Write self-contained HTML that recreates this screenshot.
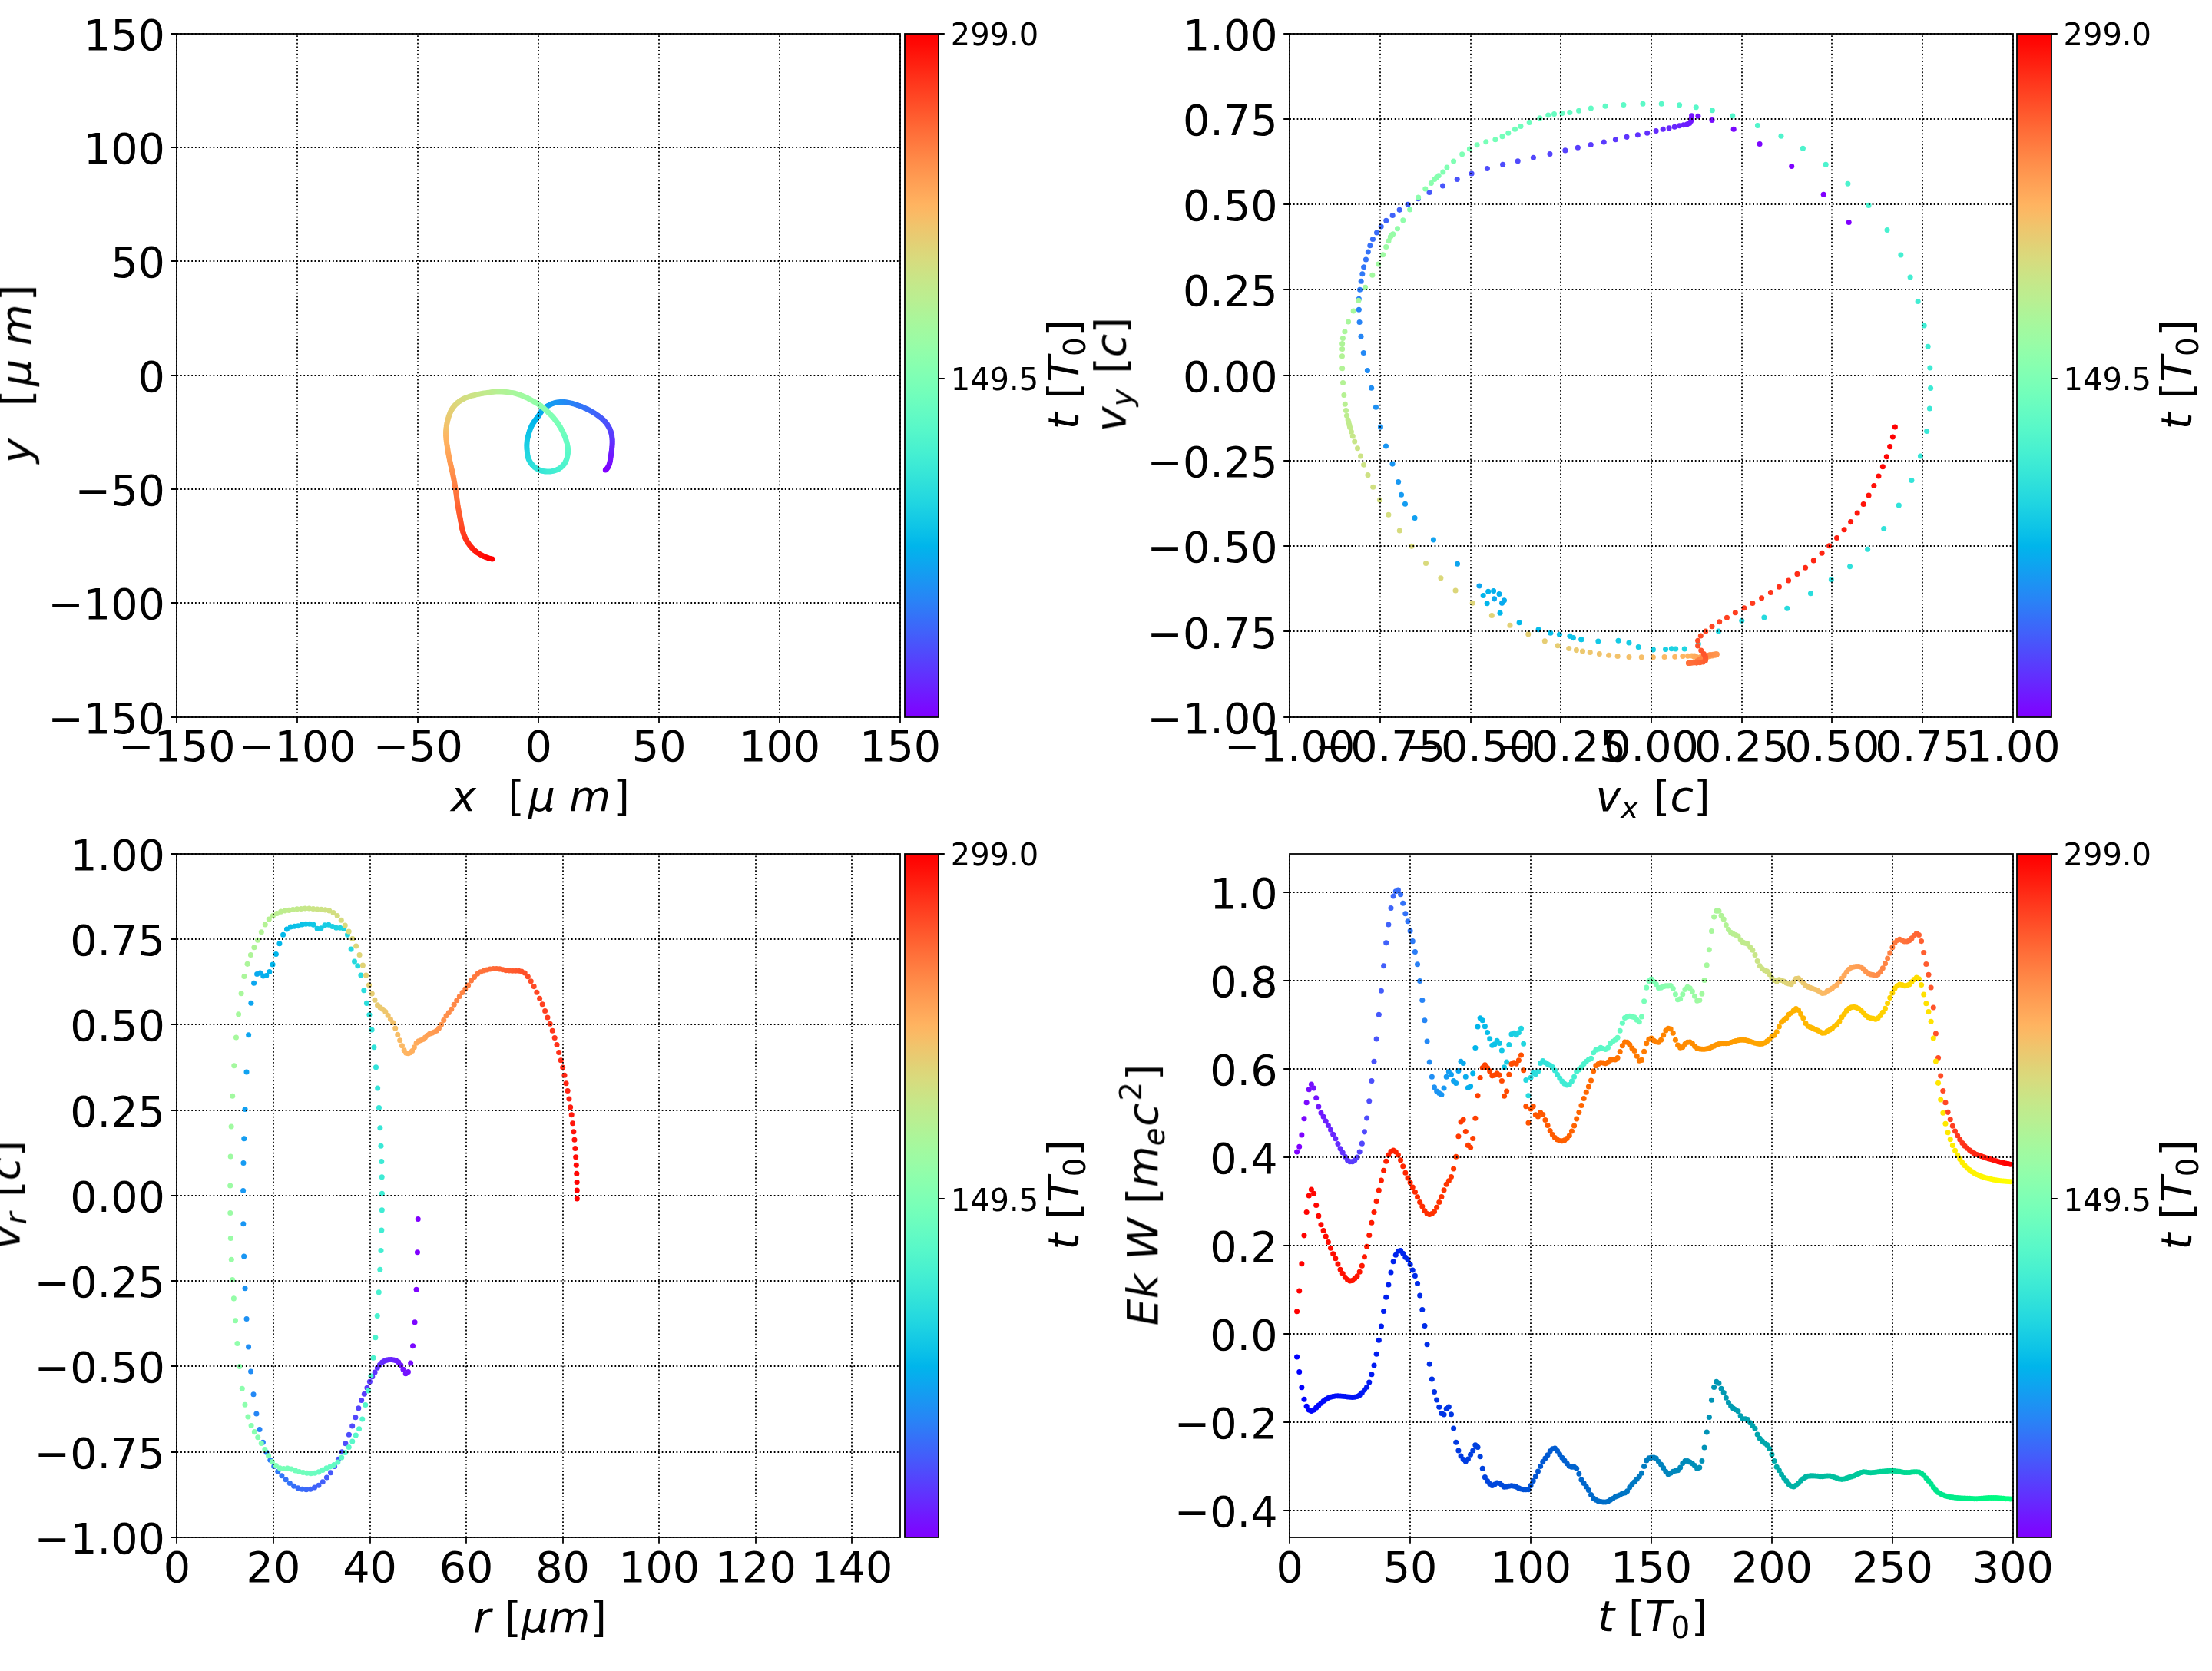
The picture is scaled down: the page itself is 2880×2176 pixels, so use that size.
<!DOCTYPE html>
<html lang="en"><head><meta charset="utf-8"><title>particle tracking figure</title>
<style>
html,body{margin:0;padding:0;background:#fff}
svg{display:block}
circle{r:3.514px}
.g{fill:none;stroke:#000;stroke-width:1.778;stroke-dasharray:1.778 2.933}
.k{fill:none;stroke:#000;stroke-width:1.778}
.s{fill:none;stroke:#000;stroke-width:1.778;stroke-linejoin:miter}
text{font-family:"DejaVu Sans","Liberation Sans",sans-serif;fill:#000}
.a{font-size:25px}.b{font-size:18px}.c{font-size:17.5px}.i{font-style:oblique}
</style></head>
<body>
<svg width="2880" height="2176" viewBox="0 0 2880 2176">
<defs>
<linearGradient id="rb" x1="0" y1="1" x2="0" y2="0"><stop offset="0" stop-color="#8000ff"/><stop offset="0.0156" stop-color="#780dff"/><stop offset="0.0312" stop-color="#7019ff"/><stop offset="0.0469" stop-color="#6826fe"/><stop offset="0.0625" stop-color="#6032fe"/><stop offset="0.0781" stop-color="#583efd"/><stop offset="0.0938" stop-color="#504afc"/><stop offset="0.1094" stop-color="#4856fb"/><stop offset="0.125" stop-color="#4062fa"/><stop offset="0.1406" stop-color="#386df9"/><stop offset="0.1562" stop-color="#3079f7"/><stop offset="0.1719" stop-color="#2884f6"/><stop offset="0.1875" stop-color="#208ef4"/><stop offset="0.2031" stop-color="#1898f2"/><stop offset="0.2188" stop-color="#10a2f0"/><stop offset="0.2344" stop-color="#08acee"/><stop offset="0.25" stop-color="#00b5eb"/><stop offset="0.2656" stop-color="#08bee9"/><stop offset="0.2812" stop-color="#10c6e6"/><stop offset="0.2969" stop-color="#18cde4"/><stop offset="0.3125" stop-color="#20d5e1"/><stop offset="0.3281" stop-color="#28dbde"/><stop offset="0.3438" stop-color="#30e1da"/><stop offset="0.3594" stop-color="#38e7d7"/><stop offset="0.375" stop-color="#40ecd4"/><stop offset="0.3906" stop-color="#48f1d0"/><stop offset="0.4062" stop-color="#50f4cc"/><stop offset="0.4219" stop-color="#58f8c9"/><stop offset="0.4375" stop-color="#60fac5"/><stop offset="0.4531" stop-color="#68fcc1"/><stop offset="0.4688" stop-color="#70febc"/><stop offset="0.4844" stop-color="#78ffb8"/><stop offset="0.5" stop-color="#80ffb4"/><stop offset="0.5156" stop-color="#88ffaf"/><stop offset="0.5312" stop-color="#90feab"/><stop offset="0.5469" stop-color="#99fca6"/><stop offset="0.5625" stop-color="#a0faa1"/><stop offset="0.5781" stop-color="#a8f79c"/><stop offset="0.5938" stop-color="#b0f397"/><stop offset="0.6094" stop-color="#b9ef92"/><stop offset="0.625" stop-color="#c0eb8d"/><stop offset="0.6406" stop-color="#c8e688"/><stop offset="0.6562" stop-color="#d0e082"/><stop offset="0.6719" stop-color="#d9da7d"/><stop offset="0.6875" stop-color="#e0d377"/><stop offset="0.7031" stop-color="#e8cb72"/><stop offset="0.7188" stop-color="#f0c46c"/><stop offset="0.7344" stop-color="#f9bb66"/><stop offset="0.75" stop-color="#ffb360"/><stop offset="0.7656" stop-color="#ffa95b"/><stop offset="0.7812" stop-color="#ffa055"/><stop offset="0.7969" stop-color="#ff964f"/><stop offset="0.8125" stop-color="#ff8c49"/><stop offset="0.8281" stop-color="#ff8143"/><stop offset="0.8438" stop-color="#ff763d"/><stop offset="0.8594" stop-color="#ff6b37"/><stop offset="0.875" stop-color="#ff5f30"/><stop offset="0.8906" stop-color="#ff532a"/><stop offset="0.9062" stop-color="#ff4724"/><stop offset="0.9219" stop-color="#ff3b1e"/><stop offset="0.9375" stop-color="#ff2f18"/><stop offset="0.9531" stop-color="#ff2211"/><stop offset="0.9688" stop-color="#ff160b"/><stop offset="0.9844" stop-color="#ff0905"/><stop offset="1" stop-color="#ff0000"/></linearGradient>
<clipPath id="c0"><rect x="230.4" y="43.52" width="941.697" height="890.182"/></clipPath>
<clipPath id="c1"><rect x="1679.165" y="43.52" width="941.697" height="890.182"/></clipPath>
<clipPath id="c2"><rect x="230.4" y="1111.738" width="941.697" height="890.182"/></clipPath>
<clipPath id="c3"><rect x="1679.165" y="1111.738" width="941.697" height="890.182"/></clipPath>
</defs>
<rect width="2880" height="2176" fill="#fff"/>
<g clip-path="url(#c0)">
<circle cx="788.33" cy="612" r="3.51" fill="#8000ff"/>
<circle cx="789.94" cy="610.55" r="3.51" fill="#8000ff"/>
<circle cx="791.29" cy="608.86" r="3.51" fill="#7e03ff"/>
<circle cx="792.37" cy="606.95" r="3.51" fill="#7c06ff"/>
<circle cx="793.2" cy="604.87" r="3.51" fill="#7a09ff"/>
<circle cx="793.82" cy="602.7" r="3.51" fill="#780dff"/>
<circle cx="794.29" cy="600.47" r="3.51" fill="#7610ff"/>
<circle cx="794.67" cy="598.22" r="3.51" fill="#7413ff"/>
<circle cx="795.02" cy="595.98" r="3.51" fill="#7413ff"/>
<circle cx="795.36" cy="593.76" r="3.51" fill="#7216ff"/>
<circle cx="795.7" cy="591.56" r="3.51" fill="#7019ff"/>
<circle cx="796.02" cy="589.38" r="3.51" fill="#6e1cff"/>
<circle cx="796.32" cy="587.21" r="3.51" fill="#6c1fff"/>
<circle cx="796.58" cy="585.04" r="3.51" fill="#6a22fe"/>
<circle cx="796.8" cy="582.88" r="3.51" fill="#6826fe"/>
<circle cx="796.98" cy="580.73" r="3.51" fill="#6826fe"/>
<circle cx="797.1" cy="578.59" r="3.51" fill="#6629fe"/>
<circle cx="797.18" cy="576.46" r="3.51" fill="#642cfe"/>
<circle cx="797.18" cy="574.35" r="3.51" fill="#622ffe"/>
<circle cx="797.1" cy="572.25" r="3.51" fill="#6032fe"/>
<circle cx="796.94" cy="570.17" r="3.51" fill="#5e35fe"/>
<circle cx="796.67" cy="568.12" r="3.51" fill="#5c38fd"/>
<circle cx="796.31" cy="566.08" r="3.51" fill="#5a3bfd"/>
<circle cx="795.84" cy="564.07" r="3.51" fill="#5a3bfd"/>
<circle cx="795.26" cy="562.08" r="3.51" fill="#583efd"/>
<circle cx="794.57" cy="560.12" r="3.51" fill="#5641fd"/>
<circle cx="793.76" cy="558.18" r="3.51" fill="#5444fd"/>
<circle cx="792.8" cy="556.28" r="3.51" fill="#5247fc"/>
<circle cx="791.71" cy="554.4" r="3.51" fill="#504afc"/>
<circle cx="790.49" cy="552.56" r="3.51" fill="#4e4dfc"/>
<circle cx="789.13" cy="550.75" r="3.51" fill="#4e4dfc"/>
<circle cx="787.64" cy="548.98" r="3.51" fill="#4c50fc"/>
<circle cx="786.02" cy="547.25" r="3.51" fill="#4a53fb"/>
<circle cx="784.27" cy="545.58" r="3.51" fill="#4856fb"/>
<circle cx="782.4" cy="543.96" r="3.51" fill="#4659fb"/>
<circle cx="780.43" cy="542.4" r="3.51" fill="#445cfb"/>
<circle cx="778.36" cy="540.89" r="3.51" fill="#425ffa"/>
<circle cx="776.21" cy="539.44" r="3.51" fill="#4062fa"/>
<circle cx="773.99" cy="538.02" r="3.51" fill="#4062fa"/>
<circle cx="771.72" cy="536.66" r="3.51" fill="#3e65fa"/>
<circle cx="769.4" cy="535.34" r="3.51" fill="#3c68f9"/>
<circle cx="767.03" cy="534.08" r="3.51" fill="#396bf9"/>
<circle cx="764.63" cy="532.87" r="3.51" fill="#386df9"/>
<circle cx="762.2" cy="531.72" r="3.51" fill="#3670f8"/>
<circle cx="759.75" cy="530.62" r="3.51" fill="#3473f8"/>
<circle cx="757.29" cy="529.58" r="3.51" fill="#3473f8"/>
<circle cx="754.8" cy="528.61" r="3.51" fill="#3176f8"/>
<circle cx="752.3" cy="527.7" r="3.51" fill="#3079f7"/>
<circle cx="749.78" cy="526.85" r="3.51" fill="#2e7bf7"/>
<circle cx="747.26" cy="526.07" r="3.51" fill="#2c7ef7"/>
<circle cx="744.73" cy="525.37" r="3.51" fill="#2981f6"/>
<circle cx="742.19" cy="524.75" r="3.51" fill="#2884f6"/>
<circle cx="739.65" cy="524.24" r="3.51" fill="#2884f6"/>
<circle cx="737.13" cy="523.84" r="3.51" fill="#2686f5"/>
<circle cx="734.62" cy="523.58" r="3.51" fill="#2489f5"/>
<circle cx="732.14" cy="523.46" r="3.51" fill="#218cf4"/>
<circle cx="729.69" cy="523.49" r="3.51" fill="#208ef4"/>
<circle cx="727.28" cy="523.69" r="3.51" fill="#1e91f3"/>
<circle cx="724.91" cy="524.05" r="3.51" fill="#1c93f3"/>
<circle cx="722.58" cy="524.58" r="3.51" fill="#1996f3"/>
<circle cx="720.31" cy="525.28" r="3.51" fill="#1996f3"/>
<circle cx="718.09" cy="526.12" r="3.51" fill="#1898f2"/>
<circle cx="715.9" cy="527.11" r="3.51" fill="#169bf2"/>
<circle cx="713.75" cy="528.18" r="3.51" fill="#149df1"/>
<circle cx="711.65" cy="529.36" r="3.51" fill="#11a0f1"/>
<circle cx="709.68" cy="530.7" r="3.51" fill="#10a2f0"/>
<circle cx="707.9" cy="532.23" r="3.51" fill="#0ea5ef"/>
<circle cx="706.31" cy="533.96" r="3.51" fill="#0ea5ef"/>
<circle cx="704.88" cy="535.85" r="3.51" fill="#0ca7ef"/>
<circle cx="703.55" cy="537.81" r="3.51" fill="#09a9ee"/>
<circle cx="702.26" cy="539.77" r="3.51" fill="#08acee"/>
<circle cx="700.96" cy="541.7" r="3.51" fill="#06aeed"/>
<circle cx="699.62" cy="543.59" r="3.51" fill="#04b0ed"/>
<circle cx="698.23" cy="545.46" r="3.51" fill="#01b3ec"/>
<circle cx="696.79" cy="547.36" r="3.51" fill="#00b5eb"/>
<circle cx="695.35" cy="549.3" r="3.51" fill="#00b5eb"/>
<circle cx="693.98" cy="551.33" r="3.51" fill="#02b7eb"/>
<circle cx="692.75" cy="553.43" r="3.51" fill="#04b9ea"/>
<circle cx="691.69" cy="555.61" r="3.51" fill="#07bbea"/>
<circle cx="690.76" cy="557.83" r="3.51" fill="#08bee9"/>
<circle cx="689.92" cy="560.08" r="3.51" fill="#0ac0e8"/>
<circle cx="689.17" cy="562.34" r="3.51" fill="#0dc2e8"/>
<circle cx="688.48" cy="564.61" r="3.51" fill="#0dc2e8"/>
<circle cx="687.84" cy="566.9" r="3.51" fill="#0fc4e7"/>
<circle cx="687.23" cy="569.19" r="3.51" fill="#10c6e6"/>
<circle cx="686.69" cy="571.49" r="3.51" fill="#12c8e6"/>
<circle cx="686.32" cy="573.8" r="3.51" fill="#14cae5"/>
<circle cx="686.08" cy="576.11" r="3.51" fill="#17cbe4"/>
<circle cx="685.93" cy="578.45" r="3.51" fill="#18cde4"/>
<circle cx="685.88" cy="580.82" r="3.51" fill="#18cde4"/>
<circle cx="685.95" cy="583.21" r="3.51" fill="#1acfe3"/>
<circle cx="686.1" cy="585.58" r="3.51" fill="#1dd1e2"/>
<circle cx="686.29" cy="587.96" r="3.51" fill="#1fd3e1"/>
<circle cx="686.54" cy="590.33" r="3.51" fill="#20d5e1"/>
<circle cx="686.89" cy="592.69" r="3.51" fill="#22d6e0"/>
<circle cx="687.39" cy="594.96" r="3.51" fill="#24d8df"/>
<circle cx="688.07" cy="597.14" r="3.51" fill="#27dade"/>
<circle cx="688.95" cy="599.26" r="3.51" fill="#27dade"/>
<circle cx="690.03" cy="601.32" r="3.51" fill="#28dbde"/>
<circle cx="691.31" cy="603.28" r="3.51" fill="#2adddd"/>
<circle cx="692.78" cy="605.12" r="3.51" fill="#2ddedc"/>
<circle cx="694.43" cy="606.83" r="3.51" fill="#2fe0db"/>
<circle cx="696.23" cy="608.42" r="3.51" fill="#30e1da"/>
<circle cx="698.18" cy="609.84" r="3.51" fill="#32e3da"/>
<circle cx="700.26" cy="611.07" r="3.51" fill="#32e3da"/>
<circle cx="702.46" cy="612.09" r="3.51" fill="#34e4d9"/>
<circle cx="704.76" cy="612.9" r="3.51" fill="#37e6d8"/>
<circle cx="707.12" cy="613.5" r="3.51" fill="#38e7d7"/>
<circle cx="709.53" cy="613.88" r="3.51" fill="#3ae8d6"/>
<circle cx="711.95" cy="614.08" r="3.51" fill="#3dead5"/>
<circle cx="714.37" cy="614.11" r="3.51" fill="#3febd5"/>
<circle cx="716.78" cy="613.95" r="3.51" fill="#40ecd4"/>
<circle cx="719.16" cy="613.61" r="3.51" fill="#40ecd4"/>
<circle cx="721.5" cy="613.07" r="3.51" fill="#42edd3"/>
<circle cx="723.79" cy="612.33" r="3.51" fill="#44eed2"/>
<circle cx="725.99" cy="611.38" r="3.51" fill="#46efd1"/>
<circle cx="728.1" cy="610.23" r="3.51" fill="#48f1d0"/>
<circle cx="730.06" cy="608.86" r="3.51" fill="#4af2cf"/>
<circle cx="731.86" cy="607.29" r="3.51" fill="#4df3ce"/>
<circle cx="733.47" cy="605.55" r="3.51" fill="#4df3ce"/>
<circle cx="734.89" cy="603.65" r="3.51" fill="#4ef3cd"/>
<circle cx="736.11" cy="601.63" r="3.51" fill="#50f4cc"/>
<circle cx="737.13" cy="599.51" r="3.51" fill="#52f5cb"/>
<circle cx="737.95" cy="597.3" r="3.51" fill="#54f6cb"/>
<circle cx="738.56" cy="595.02" r="3.51" fill="#56f7ca"/>
<circle cx="739.02" cy="592.71" r="3.51" fill="#58f8c9"/>
<circle cx="739.34" cy="590.37" r="3.51" fill="#58f8c9"/>
<circle cx="739.5" cy="588.02" r="3.51" fill="#5af8c8"/>
<circle cx="739.51" cy="585.67" r="3.51" fill="#5df9c7"/>
<circle cx="739.35" cy="583.31" r="3.51" fill="#5efac6"/>
<circle cx="739.03" cy="580.97" r="3.51" fill="#60fac5"/>
<circle cx="738.57" cy="578.65" r="3.51" fill="#62fbc4"/>
<circle cx="737.99" cy="576.34" r="3.51" fill="#64fbc3"/>
<circle cx="737.33" cy="574.05" r="3.51" fill="#66fcc2"/>
<circle cx="736.58" cy="571.77" r="3.51" fill="#66fcc2"/>
<circle cx="735.78" cy="569.5" r="3.51" fill="#68fcc1"/>
<circle cx="734.91" cy="567.24" r="3.51" fill="#6afdc0"/>
<circle cx="733.97" cy="565" r="3.51" fill="#6dfdbf"/>
<circle cx="732.96" cy="562.78" r="3.51" fill="#6efebe"/>
<circle cx="731.86" cy="560.61" r="3.51" fill="#70febc"/>
<circle cx="730.71" cy="558.46" r="3.51" fill="#72febb"/>
<circle cx="729.49" cy="556.34" r="3.51" fill="#72febb"/>
<circle cx="728.23" cy="554.25" r="3.51" fill="#74feba"/>
<circle cx="726.9" cy="552.19" r="3.51" fill="#76ffb9"/>
<circle cx="725.51" cy="550.15" r="3.51" fill="#78ffb8"/>
<circle cx="724.03" cy="548.14" r="3.51" fill="#7affb7"/>
<circle cx="722.49" cy="546.16" r="3.51" fill="#7dffb6"/>
<circle cx="720.88" cy="544.22" r="3.51" fill="#7effb5"/>
<circle cx="719.2" cy="542.33" r="3.51" fill="#80ffb4"/>
<circle cx="717.45" cy="540.5" r="3.51" fill="#80ffb4"/>
<circle cx="715.66" cy="538.72" r="3.51" fill="#82ffb3"/>
<circle cx="713.84" cy="536.97" r="3.51" fill="#84ffb2"/>
<circle cx="711.98" cy="535.24" r="3.51" fill="#86ffb0"/>
<circle cx="710.11" cy="533.54" r="3.51" fill="#88ffaf"/>
<circle cx="708.21" cy="531.85" r="3.51" fill="#8bfeae"/>
<circle cx="706.28" cy="530.21" r="3.51" fill="#8cfead"/>
<circle cx="704.29" cy="528.63" r="3.51" fill="#8cfead"/>
<circle cx="702.23" cy="527.14" r="3.51" fill="#8efeac"/>
<circle cx="700.1" cy="525.75" r="3.51" fill="#90feab"/>
<circle cx="697.92" cy="524.44" r="3.51" fill="#92fda9"/>
<circle cx="695.7" cy="523.19" r="3.51" fill="#94fda8"/>
<circle cx="693.45" cy="521.97" r="3.51" fill="#96fca7"/>
<circle cx="691.2" cy="520.75" r="3.51" fill="#99fca6"/>
<circle cx="688.94" cy="519.54" r="3.51" fill="#99fca6"/>
<circle cx="686.67" cy="518.36" r="3.51" fill="#9bfba5"/>
<circle cx="684.37" cy="517.22" r="3.51" fill="#9cfba4"/>
<circle cx="682.06" cy="516.14" r="3.51" fill="#9efaa2"/>
<circle cx="679.71" cy="515.14" r="3.51" fill="#a0faa1"/>
<circle cx="677.31" cy="514.22" r="3.51" fill="#a2f9a0"/>
<circle cx="674.86" cy="513.4" r="3.51" fill="#a4f89f"/>
<circle cx="672.35" cy="512.7" r="3.51" fill="#a6f89d"/>
<circle cx="669.79" cy="512.09" r="3.51" fill="#a6f89d"/>
<circle cx="667.18" cy="511.58" r="3.51" fill="#a8f79c"/>
<circle cx="664.53" cy="511.16" r="3.51" fill="#abf69b"/>
<circle cx="661.86" cy="510.81" r="3.51" fill="#acf59a"/>
<circle cx="659.18" cy="510.52" r="3.51" fill="#aef498"/>
<circle cx="656.5" cy="510.26" r="3.51" fill="#b0f397"/>
<circle cx="653.82" cy="510.07" r="3.51" fill="#b2f396"/>
<circle cx="651.14" cy="509.96" r="3.51" fill="#b2f396"/>
<circle cx="648.46" cy="509.96" r="3.51" fill="#b4f295"/>
<circle cx="645.78" cy="510.08" r="3.51" fill="#b6f193"/>
<circle cx="643.12" cy="510.29" r="3.51" fill="#b9ef92"/>
<circle cx="640.47" cy="510.57" r="3.51" fill="#bbee91"/>
<circle cx="637.82" cy="510.9" r="3.51" fill="#bced8f"/>
<circle cx="635.18" cy="511.27" r="3.51" fill="#beec8e"/>
<circle cx="632.55" cy="511.66" r="3.51" fill="#c0eb8d"/>
<circle cx="629.93" cy="512.08" r="3.51" fill="#c0eb8d"/>
<circle cx="627.31" cy="512.53" r="3.51" fill="#c2ea8c"/>
<circle cx="624.7" cy="513" r="3.51" fill="#c4e88a"/>
<circle cx="622.1" cy="513.51" r="3.51" fill="#c6e789"/>
<circle cx="619.52" cy="514.06" r="3.51" fill="#c8e688"/>
<circle cx="616.96" cy="514.67" r="3.51" fill="#cbe486"/>
<circle cx="614.42" cy="515.33" r="3.51" fill="#cce385"/>
<circle cx="611.91" cy="516.07" r="3.51" fill="#cce385"/>
<circle cx="609.43" cy="516.9" r="3.51" fill="#cee184"/>
<circle cx="607" cy="517.82" r="3.51" fill="#d0e082"/>
<circle cx="604.61" cy="518.84" r="3.51" fill="#d2de81"/>
<circle cx="602.29" cy="519.99" r="3.51" fill="#d4dd80"/>
<circle cx="600.06" cy="521.27" r="3.51" fill="#d6db7e"/>
<circle cx="597.92" cy="522.69" r="3.51" fill="#d9da7d"/>
<circle cx="595.91" cy="524.25" r="3.51" fill="#d9da7d"/>
<circle cx="594.01" cy="525.94" r="3.51" fill="#dbd87b"/>
<circle cx="592.25" cy="527.76" r="3.51" fill="#dcd67a"/>
<circle cx="590.63" cy="529.68" r="3.51" fill="#ded579"/>
<circle cx="589.16" cy="531.71" r="3.51" fill="#e0d377"/>
<circle cx="587.85" cy="533.84" r="3.51" fill="#e2d176"/>
<circle cx="586.7" cy="536.05" r="3.51" fill="#e4cf74"/>
<circle cx="585.71" cy="538.33" r="3.51" fill="#e6cd73"/>
<circle cx="584.84" cy="540.66" r="3.51" fill="#e6cd73"/>
<circle cx="584.08" cy="543.02" r="3.51" fill="#e8cb72"/>
<circle cx="583.39" cy="545.4" r="3.51" fill="#ebca70"/>
<circle cx="582.77" cy="547.79" r="3.51" fill="#ecc86f"/>
<circle cx="582.2" cy="550.19" r="3.51" fill="#eec66d"/>
<circle cx="581.71" cy="552.6" r="3.51" fill="#f0c46c"/>
<circle cx="581.3" cy="555.03" r="3.51" fill="#f2c26b"/>
<circle cx="580.97" cy="557.46" r="3.51" fill="#f2c26b"/>
<circle cx="580.73" cy="559.9" r="3.51" fill="#f4c069"/>
<circle cx="580.59" cy="562.35" r="3.51" fill="#f6be68"/>
<circle cx="580.56" cy="564.8" r="3.51" fill="#f9bb66"/>
<circle cx="580.62" cy="567.25" r="3.51" fill="#fbb965"/>
<circle cx="580.78" cy="569.69" r="3.51" fill="#fcb763"/>
<circle cx="581.02" cy="572.13" r="3.51" fill="#feb562"/>
<circle cx="581.31" cy="574.57" r="3.51" fill="#ffb360"/>
<circle cx="581.65" cy="577.01" r="3.51" fill="#ffb360"/>
<circle cx="582.01" cy="579.44" r="3.51" fill="#ffb05f"/>
<circle cx="582.38" cy="581.88" r="3.51" fill="#ffae5e"/>
<circle cx="582.76" cy="584.32" r="3.51" fill="#ffac5c"/>
<circle cx="583.14" cy="586.77" r="3.51" fill="#ffa95b"/>
<circle cx="583.55" cy="589.22" r="3.51" fill="#ffa759"/>
<circle cx="583.99" cy="591.66" r="3.51" fill="#ffa558"/>
<circle cx="584.46" cy="594.11" r="3.51" fill="#ffa558"/>
<circle cx="584.94" cy="596.55" r="3.51" fill="#ffa256"/>
<circle cx="585.43" cy="598.99" r="3.51" fill="#ffa055"/>
<circle cx="585.95" cy="601.43" r="3.51" fill="#ff9d53"/>
<circle cx="586.49" cy="603.86" r="3.51" fill="#ff9b52"/>
<circle cx="587.05" cy="606.29" r="3.51" fill="#ff9850"/>
<circle cx="587.61" cy="608.71" r="3.51" fill="#ff964f"/>
<circle cx="588.18" cy="611.13" r="3.51" fill="#ff964f"/>
<circle cx="588.72" cy="613.56" r="3.51" fill="#ff934d"/>
<circle cx="589.25" cy="615.98" r="3.51" fill="#ff914c"/>
<circle cx="589.76" cy="618.41" r="3.51" fill="#ff8e4a"/>
<circle cx="590.26" cy="620.84" r="3.51" fill="#ff8c49"/>
<circle cx="590.75" cy="623.27" r="3.51" fill="#ff8947"/>
<circle cx="591.21" cy="625.72" r="3.51" fill="#ff8646"/>
<circle cx="591.66" cy="628.17" r="3.51" fill="#ff8444"/>
<circle cx="592.09" cy="630.63" r="3.51" fill="#ff8444"/>
<circle cx="592.51" cy="633.09" r="3.51" fill="#ff8143"/>
<circle cx="592.92" cy="635.57" r="3.51" fill="#ff7e41"/>
<circle cx="593.3" cy="638.06" r="3.51" fill="#ff7b40"/>
<circle cx="593.66" cy="640.55" r="3.51" fill="#ff793e"/>
<circle cx="594" cy="643.05" r="3.51" fill="#ff763d"/>
<circle cx="594.32" cy="645.55" r="3.51" fill="#ff733b"/>
<circle cx="594.65" cy="648.05" r="3.51" fill="#ff733b"/>
<circle cx="594.97" cy="650.55" r="3.51" fill="#ff703a"/>
<circle cx="595.32" cy="653.04" r="3.51" fill="#ff6d38"/>
<circle cx="595.67" cy="655.54" r="3.51" fill="#ff6b37"/>
<circle cx="596.05" cy="658.04" r="3.51" fill="#ff6835"/>
<circle cx="596.46" cy="660.53" r="3.51" fill="#ff6533"/>
<circle cx="596.9" cy="663.02" r="3.51" fill="#ff6232"/>
<circle cx="597.36" cy="665.51" r="3.51" fill="#ff5f30"/>
<circle cx="597.83" cy="667.98" r="3.51" fill="#ff5f30"/>
<circle cx="598.3" cy="670.43" r="3.51" fill="#ff5c2f"/>
<circle cx="598.76" cy="672.88" r="3.51" fill="#ff592d"/>
<circle cx="599.23" cy="675.3" r="3.51" fill="#ff562c"/>
<circle cx="599.67" cy="677.71" r="3.51" fill="#ff532a"/>
<circle cx="600.09" cy="680.08" r="3.51" fill="#ff5029"/>
<circle cx="600.49" cy="682.41" r="3.51" fill="#ff4d27"/>
<circle cx="600.91" cy="684.69" r="3.51" fill="#ff4d27"/>
<circle cx="601.36" cy="686.93" r="3.51" fill="#ff4a26"/>
<circle cx="601.86" cy="689.13" r="3.51" fill="#ff4724"/>
<circle cx="602.42" cy="691.29" r="3.51" fill="#ff4422"/>
<circle cx="603.04" cy="693.42" r="3.51" fill="#ff4121"/>
<circle cx="603.73" cy="695.5" r="3.51" fill="#ff3e1f"/>
<circle cx="604.5" cy="697.54" r="3.51" fill="#ff3b1e"/>
<circle cx="605.34" cy="699.54" r="3.51" fill="#ff3b1e"/>
<circle cx="606.26" cy="701.49" r="3.51" fill="#ff381c"/>
<circle cx="607.26" cy="703.4" r="3.51" fill="#ff351b"/>
<circle cx="608.33" cy="705.27" r="3.51" fill="#ff3219"/>
<circle cx="609.48" cy="707.08" r="3.51" fill="#ff2f18"/>
<circle cx="610.71" cy="708.83" r="3.51" fill="#ff2c16"/>
<circle cx="612.01" cy="710.53" r="3.51" fill="#ff2914"/>
<circle cx="613.38" cy="712.17" r="3.51" fill="#ff2613"/>
<circle cx="614.83" cy="713.74" r="3.51" fill="#ff2613"/>
<circle cx="616.34" cy="715.26" r="3.51" fill="#ff2211"/>
<circle cx="617.91" cy="716.7" r="3.51" fill="#ff1f10"/>
<circle cx="619.56" cy="718.08" r="3.51" fill="#ff1c0e"/>
<circle cx="621.26" cy="719.39" r="3.51" fill="#ff190d"/>
<circle cx="623.02" cy="720.62" r="3.51" fill="#ff160b"/>
<circle cx="624.83" cy="721.78" r="3.51" fill="#ff1309"/>
<circle cx="626.7" cy="722.86" r="3.51" fill="#ff1309"/>
<circle cx="628.61" cy="723.86" r="3.51" fill="#ff1008"/>
<circle cx="630.56" cy="724.78" r="3.51" fill="#ff0d06"/>
<circle cx="632.55" cy="725.61" r="3.51" fill="#ff0905"/>
<circle cx="634.58" cy="726.36" r="3.51" fill="#ff0603"/>
<circle cx="636.63" cy="727.03" r="3.51" fill="#ff0302"/>
<circle cx="638.72" cy="727.61" r="3.51" fill="#ff0000"/>
<circle cx="640.82" cy="728.1" r="3.51" fill="#ff0000"/>
</g>
<path class="g" d="M230 933.702V43.52M387 933.702V43.52M544 933.702V43.52M701 933.702V43.52M858 933.702V43.52M1015 933.702V43.52M1172 933.702V43.52M230.4 934H1172.097M230.4 785H1172.097M230.4 637H1172.097M230.4 489H1172.097M230.4 340H1172.097M230.4 192H1172.097M230.4 44H1172.097"/>
<path class="k" d="M230 934v7.778M387 934v7.778M544 934v7.778M701 934v7.778M858 934v7.778M1015 934v7.778M1172 934v7.778M230 934h-7.778M230 785h-7.778M230 637h-7.778M230 489h-7.778M230 340h-7.778M230 192h-7.778M230 44h-7.778"/>
<rect class="s" x="230" y="44" width="942" height="890"/>
<rect x="1177.67" y="43.52" width="44.51" height="890.18" fill="url(#rb)"/>
<rect class="s" x="1178" y="44" width="44" height="890"/>
<path class="k" d="M1222 493h7.778M1222 44h7.778"/>
<g clip-path="url(#c1)">
<circle cx="2407.2" cy="289.6" r="3.51" fill="#8000ff"/>
<circle cx="2374.2" cy="253.2" r="3.51" fill="#8000ff"/>
<circle cx="2332.7" cy="216.5" r="3.51" fill="#7e03ff"/>
<circle cx="2291.1" cy="187.6" r="3.51" fill="#7c06ff"/>
<circle cx="2257.2" cy="168.3" r="3.51" fill="#7a09ff"/>
<circle cx="2229" cy="156.5" r="3.51" fill="#780dff"/>
<circle cx="2210.9" cy="151.2" r="3.51" fill="#7610ff"/>
<circle cx="2202.6" cy="150.8" r="3.51" fill="#7413ff"/>
<circle cx="2202.26" cy="154.3" r="3.51" fill="#7413ff"/>
<circle cx="2201.54" cy="157.85" r="3.51" fill="#7216ff"/>
<circle cx="2199.73" cy="160.56" r="3.51" fill="#7019ff"/>
<circle cx="2196.65" cy="161.83" r="3.51" fill="#6e1cff"/>
<circle cx="2191.95" cy="162.73" r="3.51" fill="#6c1fff"/>
<circle cx="2186.53" cy="163.82" r="3.51" fill="#6a22fe"/>
<circle cx="2180.2" cy="165.26" r="3.51" fill="#6826fe"/>
<circle cx="2173.07" cy="166.78" r="3.51" fill="#6826fe"/>
<circle cx="2165.19" cy="168.26" r="3.51" fill="#6629fe"/>
<circle cx="2156.15" cy="170.51" r="3.51" fill="#642cfe"/>
<circle cx="2144.68" cy="173.14" r="3.51" fill="#622ffe"/>
<circle cx="2132.41" cy="175.68" r="3.51" fill="#6032fe"/>
<circle cx="2118.05" cy="178.37" r="3.51" fill="#5e35fe"/>
<circle cx="2103.39" cy="181.81" r="3.51" fill="#5c38fd"/>
<circle cx="2088.28" cy="185.11" r="3.51" fill="#5a3bfd"/>
<circle cx="2071.23" cy="188.55" r="3.51" fill="#5a3bfd"/>
<circle cx="2054.33" cy="192.29" r="3.51" fill="#583efd"/>
<circle cx="2037.87" cy="195.88" r="3.51" fill="#5641fd"/>
<circle cx="2017.97" cy="200.51" r="3.51" fill="#5444fd"/>
<circle cx="1996.43" cy="205.3" r="3.51" fill="#5247fc"/>
<circle cx="1976.22" cy="209.79" r="3.51" fill="#504afc"/>
<circle cx="1956.62" cy="214.28" r="3.51" fill="#4e4dfc"/>
<circle cx="1936.43" cy="219.51" r="3.51" fill="#4e4dfc"/>
<circle cx="1916.08" cy="225.94" r="3.51" fill="#4c50fc"/>
<circle cx="1897.23" cy="233.42" r="3.51" fill="#4a53fb"/>
<circle cx="1878.53" cy="241.95" r="3.51" fill="#4856fb"/>
<circle cx="1861.03" cy="250.48" r="3.51" fill="#4659fb"/>
<circle cx="1846.52" cy="258.71" r="3.51" fill="#445cfb"/>
<circle cx="1833.06" cy="266.33" r="3.51" fill="#425ffa"/>
<circle cx="1822.14" cy="273.37" r="3.51" fill="#4062fa"/>
<circle cx="1813.16" cy="280.4" r="3.51" fill="#4062fa"/>
<circle cx="1804.78" cy="287.28" r="3.51" fill="#3e65fa"/>
<circle cx="1798.2" cy="294.98" r="3.51" fill="#3c68f9"/>
<circle cx="1792.52" cy="302.91" r="3.51" fill="#396bf9"/>
<circle cx="1787.43" cy="311.59" r="3.51" fill="#386df9"/>
<circle cx="1783.84" cy="319.66" r="3.51" fill="#3670f8"/>
<circle cx="1781.3" cy="327.89" r="3.51" fill="#3473f8"/>
<circle cx="1778.46" cy="338.06" r="3.51" fill="#3473f8"/>
<circle cx="1775.61" cy="347.79" r="3.51" fill="#3176f8"/>
<circle cx="1773.82" cy="356.76" r="3.51" fill="#3079f7"/>
<circle cx="1772.17" cy="366.19" r="3.51" fill="#2e7bf7"/>
<circle cx="1770.53" cy="377.26" r="3.51" fill="#2c7ef7"/>
<circle cx="1769.33" cy="389.23" r="3.51" fill="#2981f6"/>
<circle cx="1769.33" cy="403.14" r="3.51" fill="#2884f6"/>
<circle cx="1770.08" cy="419.59" r="3.51" fill="#2884f6"/>
<circle cx="1772.02" cy="438.29" r="3.51" fill="#2686f5"/>
<circle cx="1775.31" cy="459.53" r="3.51" fill="#2489f5"/>
<circle cx="1780.4" cy="482.42" r="3.51" fill="#218cf4"/>
<circle cx="1785.64" cy="505.16" r="3.51" fill="#208ef4"/>
<circle cx="1791.47" cy="530.22" r="3.51" fill="#1e91f3"/>
<circle cx="1797.45" cy="555.95" r="3.51" fill="#1c93f3"/>
<circle cx="1804.48" cy="580.93" r="3.51" fill="#1996f3"/>
<circle cx="1813.01" cy="604.12" r="3.51" fill="#1996f3"/>
<circle cx="1820.64" cy="627.6" r="3.51" fill="#1898f2"/>
<circle cx="1824.53" cy="644.21" r="3.51" fill="#169bf2"/>
<circle cx="1829.47" cy="656.32" r="3.51" fill="#149df1"/>
<circle cx="1842.03" cy="674.43" r="3.51" fill="#11a0f1"/>
<circle cx="1866.42" cy="703" r="3.51" fill="#10a2f0"/>
<circle cx="1897.53" cy="734.26" r="3.51" fill="#0ea5ef"/>
<circle cx="1925.95" cy="763" r="3.51" fill="#0ea5ef"/>
<circle cx="1945.52" cy="779.87" r="3.51" fill="#0ca7ef"/>
<circle cx="1955.57" cy="785.37" r="3.51" fill="#09a9ee"/>
<circle cx="1958.45" cy="781.78" r="3.51" fill="#08acee"/>
<circle cx="1951.98" cy="773.52" r="3.51" fill="#06aeed"/>
<circle cx="1944.62" cy="769.57" r="3.51" fill="#04b0ed"/>
<circle cx="1937.69" cy="770.29" r="3.51" fill="#01b3ec"/>
<circle cx="1931.16" cy="775.42" r="3.51" fill="#00b5eb"/>
<circle cx="1936.18" cy="785.73" r="3.51" fill="#00b5eb"/>
<circle cx="1953.06" cy="798.29" r="3.51" fill="#02b7eb"/>
<circle cx="1978.1" cy="810.72" r="3.51" fill="#04b9ea"/>
<circle cx="2003.08" cy="819.85" r="3.51" fill="#07bbea"/>
<circle cx="2018.79" cy="824.18" r="3.51" fill="#08bee9"/>
<circle cx="2030.45" cy="826.28" r="3.51" fill="#0ac0e8"/>
<circle cx="2043.92" cy="828.37" r="3.51" fill="#0dc2e8"/>
<circle cx="2048.41" cy="830.62" r="3.51" fill="#0dc2e8"/>
<circle cx="2058.88" cy="832.86" r="3.51" fill="#0fc4e7"/>
<circle cx="2058.88" cy="832.86" r="3.51" fill="#10c6e6"/>
<circle cx="2080.87" cy="835.11" r="3.51" fill="#12c8e6"/>
<circle cx="2107.05" cy="834.21" r="3.51" fill="#14cae5"/>
<circle cx="2120.96" cy="836.9" r="3.51" fill="#17cbe4"/>
<circle cx="2133.23" cy="842.58" r="3.51" fill="#18cde4"/>
<circle cx="2152.37" cy="845.88" r="3.51" fill="#18cde4"/>
<circle cx="2168.55" cy="845.58" r="3.51" fill="#1acfe3"/>
<circle cx="2176.33" cy="844.68" r="3.51" fill="#1dd1e2"/>
<circle cx="2181.71" cy="844.98" r="3.51" fill="#1fd3e1"/>
<circle cx="2193.23" cy="844.98" r="3.51" fill="#20d5e1"/>
<circle cx="2211.33" cy="838.55" r="3.51" fill="#22d6e0"/>
<circle cx="2237.51" cy="821.94" r="3.51" fill="#24d8df"/>
<circle cx="2267.73" cy="808.18" r="3.51" fill="#27dade"/>
<circle cx="2296.9" cy="803.99" r="3.51" fill="#27dade"/>
<circle cx="2326.82" cy="792.32" r="3.51" fill="#28dbde"/>
<circle cx="2357.49" cy="772.72" r="3.51" fill="#2adddd"/>
<circle cx="2384.35" cy="754.86" r="3.51" fill="#2ddedc"/>
<circle cx="2408.58" cy="737.66" r="3.51" fill="#2fe0db"/>
<circle cx="2431.62" cy="715.22" r="3.51" fill="#30e1da"/>
<circle cx="2452.71" cy="688.59" r="3.51" fill="#32e3da"/>
<circle cx="2472.31" cy="658.07" r="3.51" fill="#32e3da"/>
<circle cx="2488.91" cy="625.46" r="3.51" fill="#34e4d9"/>
<circle cx="2500.43" cy="594.05" r="3.51" fill="#37e6d8"/>
<circle cx="2508.66" cy="561.59" r="3.51" fill="#38e7d7"/>
<circle cx="2512.4" cy="531.97" r="3.51" fill="#3ae8d6"/>
<circle cx="2513.6" cy="505.44" r="3.51" fill="#3dead5"/>
<circle cx="2512.85" cy="478.96" r="3.51" fill="#3febd5"/>
<circle cx="2510.16" cy="451.28" r="3.51" fill="#40ecd4"/>
<circle cx="2505.22" cy="423.91" r="3.51" fill="#40ecd4"/>
<circle cx="2497.14" cy="392.49" r="3.51" fill="#42edd3"/>
<circle cx="2487.12" cy="361.08" r="3.51" fill="#44eed2"/>
<circle cx="2474.85" cy="331.91" r="3.51" fill="#46efd1"/>
<circle cx="2457.05" cy="299.45" r="3.51" fill="#48f1d0"/>
<circle cx="2432.97" cy="267.38" r="3.51" fill="#4af2cf"/>
<circle cx="2405.89" cy="239.26" r="3.51" fill="#4df3ce"/>
<circle cx="2377.17" cy="214.28" r="3.51" fill="#4df3ce"/>
<circle cx="2347.4" cy="193.33" r="3.51" fill="#4ef3cd"/>
<circle cx="2318.98" cy="177.33" r="3.51" fill="#50f4cc"/>
<circle cx="2288.44" cy="163.56" r="3.51" fill="#52f5cb"/>
<circle cx="2255.83" cy="151" r="3.51" fill="#54f6cb"/>
<circle cx="2229.35" cy="143.67" r="3.51" fill="#56f7ca"/>
<circle cx="2208.26" cy="139.78" r="3.51" fill="#58f8c9"/>
<circle cx="2186.57" cy="136.64" r="3.51" fill="#58f8c9"/>
<circle cx="2163.23" cy="135.29" r="3.51" fill="#5af8c8"/>
<circle cx="2138.99" cy="135.29" r="3.51" fill="#5df9c7"/>
<circle cx="2113.86" cy="136.49" r="3.51" fill="#5efac6"/>
<circle cx="2090.08" cy="138.28" r="3.51" fill="#60fac5"/>
<circle cx="2071.38" cy="140.98" r="3.51" fill="#62fbc4"/>
<circle cx="2055.52" cy="144.27" r="3.51" fill="#64fbc3"/>
<circle cx="2043.85" cy="146.51" r="3.51" fill="#66fcc2"/>
<circle cx="2033.83" cy="147.41" r="3.51" fill="#66fcc2"/>
<circle cx="2023.51" cy="148.6" r="3.51" fill="#68fcc1"/>
<circle cx="2015.73" cy="150.1" r="3.51" fill="#6afdc0"/>
<circle cx="2004.81" cy="153.69" r="3.51" fill="#6dfdbf"/>
<circle cx="1991.2" cy="159.38" r="3.51" fill="#6efebe"/>
<circle cx="1979.96" cy="164.46" r="3.51" fill="#70febc"/>
<circle cx="1972.48" cy="168.2" r="3.51" fill="#72febb"/>
<circle cx="1963.8" cy="173.14" r="3.51" fill="#72febb"/>
<circle cx="1956.02" cy="177.63" r="3.51" fill="#74feba"/>
<circle cx="1946.9" cy="181.66" r="3.51" fill="#76ffb9"/>
<circle cx="1934.78" cy="184.81" r="3.51" fill="#78ffb8"/>
<circle cx="1923.11" cy="188.85" r="3.51" fill="#7affb7"/>
<circle cx="1913.39" cy="194.08" r="3.51" fill="#7dffb6"/>
<circle cx="1903.66" cy="200.81" r="3.51" fill="#7effb5"/>
<circle cx="1892.59" cy="210.09" r="3.51" fill="#80ffb4"/>
<circle cx="1883.92" cy="218.02" r="3.51" fill="#80ffb4"/>
<circle cx="1878.83" cy="224" r="3.51" fill="#82ffb3"/>
<circle cx="1873.2" cy="228.7" r="3.51" fill="#84ffb2"/>
<circle cx="1870.5" cy="231.1" r="3.51" fill="#86ffb0"/>
<circle cx="1867.8" cy="233.6" r="3.51" fill="#88ffaf"/>
<circle cx="1863.4" cy="238.4" r="3.51" fill="#8bfeae"/>
<circle cx="1855.8" cy="246.1" r="3.51" fill="#8cfead"/>
<circle cx="1846.7" cy="257" r="3.51" fill="#8cfead"/>
<circle cx="1835.6" cy="273.07" r="3.51" fill="#8efeac"/>
<circle cx="1826.77" cy="286.83" r="3.51" fill="#90feab"/>
<circle cx="1819.5" cy="297.7" r="3.51" fill="#92fda9"/>
<circle cx="1813.7" cy="304.8" r="3.51" fill="#94fda8"/>
<circle cx="1812.4" cy="305.7" r="3.51" fill="#96fca7"/>
<circle cx="1811.3" cy="306.9" r="3.51" fill="#99fca6"/>
<circle cx="1810.3" cy="308.4" r="3.51" fill="#99fca6"/>
<circle cx="1808" cy="313.8" r="3.51" fill="#9bfba5"/>
<circle cx="1804.7" cy="321.4" r="3.51" fill="#9cfba4"/>
<circle cx="1800.6" cy="331.8" r="3.51" fill="#9efaa2"/>
<circle cx="1794.61" cy="343.9" r="3.51" fill="#a0faa1"/>
<circle cx="1786.83" cy="358.26" r="3.51" fill="#a2f9a0"/>
<circle cx="1777.56" cy="374.27" r="3.51" fill="#a4f89f"/>
<circle cx="1768.88" cy="391.17" r="3.51" fill="#a6f89d"/>
<circle cx="1762.15" cy="405.08" r="3.51" fill="#a6f89d"/>
<circle cx="1755.57" cy="418.99" r="3.51" fill="#a8f79c"/>
<circle cx="1750.93" cy="431.71" r="3.51" fill="#abf69b"/>
<circle cx="1748.39" cy="440.54" r="3.51" fill="#acf59a"/>
<circle cx="1747.64" cy="447.57" r="3.51" fill="#aef498"/>
<circle cx="1747.64" cy="454.45" r="3.51" fill="#b0f397"/>
<circle cx="1747.49" cy="463.72" r="3.51" fill="#b2f396"/>
<circle cx="1747.64" cy="479.73" r="3.51" fill="#b2f396"/>
<circle cx="1748.54" cy="498.43" r="3.51" fill="#b4f295"/>
<circle cx="1749.85" cy="514.6" r="3.51" fill="#b6f193"/>
<circle cx="1751.3" cy="526.2" r="3.51" fill="#b9ef92"/>
<circle cx="1752.5" cy="534.5" r="3.51" fill="#bbee91"/>
<circle cx="1753.5" cy="541.3" r="3.51" fill="#bced8f"/>
<circle cx="1755.1" cy="546.7" r="3.51" fill="#beec8e"/>
<circle cx="1756.1" cy="550" r="3.51" fill="#c0eb8d"/>
<circle cx="1756.9" cy="553.4" r="3.51" fill="#c0eb8d"/>
<circle cx="1757.6" cy="556.6" r="3.51" fill="#c2ea8c"/>
<circle cx="1759.4" cy="562.2" r="3.51" fill="#c4e88a"/>
<circle cx="1761.3" cy="568" r="3.51" fill="#c6e789"/>
<circle cx="1763.7" cy="574.9" r="3.51" fill="#c8e688"/>
<circle cx="1767.5" cy="583.7" r="3.51" fill="#cbe486"/>
<circle cx="1771.57" cy="594.09" r="3.51" fill="#cce385"/>
<circle cx="1775.61" cy="605.16" r="3.51" fill="#cce385"/>
<circle cx="1781" cy="618.63" r="3.51" fill="#cee184"/>
<circle cx="1787.73" cy="634.33" r="3.51" fill="#d0e082"/>
<circle cx="1796.41" cy="651.09" r="3.51" fill="#d2de81"/>
<circle cx="1807.92" cy="670.24" r="3.51" fill="#d4dd80"/>
<circle cx="1822.29" cy="691.03" r="3.51" fill="#d6db7e"/>
<circle cx="1837.99" cy="711.37" r="3.51" fill="#d9da7d"/>
<circle cx="1856.54" cy="733.51" r="3.51" fill="#d9da7d"/>
<circle cx="1875.93" cy="752.83" r="3.51" fill="#dbd87b"/>
<circle cx="1895.07" cy="768.99" r="3.51" fill="#dcd67a"/>
<circle cx="1917.21" cy="785.29" r="3.51" fill="#ded579"/>
<circle cx="1942.34" cy="801.45" r="3.51" fill="#e0d377"/>
<circle cx="1965.98" cy="814.16" r="3.51" fill="#e2d176"/>
<circle cx="1989.77" cy="825.83" r="3.51" fill="#e4cf74"/>
<circle cx="2011.31" cy="834.81" r="3.51" fill="#e6cd73"/>
<circle cx="2028.21" cy="840.64" r="3.51" fill="#e6cd73"/>
<circle cx="2042.72" cy="844.53" r="3.51" fill="#e8cb72"/>
<circle cx="2052.44" cy="846.62" r="3.51" fill="#ebca70"/>
<circle cx="2060.52" cy="847.97" r="3.51" fill="#ecc86f"/>
<circle cx="2070.25" cy="849.47" r="3.51" fill="#eec66d"/>
<circle cx="2082.36" cy="851.56" r="3.51" fill="#f0c46c"/>
<circle cx="2094.63" cy="853.36" r="3.51" fill="#f2c26b"/>
<circle cx="2106.15" cy="854.55" r="3.51" fill="#f2c26b"/>
<circle cx="2120.96" cy="855.45" r="3.51" fill="#f4c069"/>
<circle cx="2137.26" cy="855.75" r="3.51" fill="#f6be68"/>
<circle cx="2152.37" cy="855.75" r="3.51" fill="#f9bb66"/>
<circle cx="2167.05" cy="855.45" r="3.51" fill="#fbb965"/>
<circle cx="2180.67" cy="855.15" r="3.51" fill="#fcb763"/>
<circle cx="2190.84" cy="854.55" r="3.51" fill="#feb562"/>
<circle cx="2197.56" cy="854.32" r="3.51" fill="#ffb360"/>
<circle cx="2202.75" cy="854.1" r="3.51" fill="#ffb360"/>
<circle cx="2206.06" cy="853.98" r="3.51" fill="#ffb05f"/>
<circle cx="2206.61" cy="854.51" r="3.51" fill="#ffae5e"/>
<circle cx="2205.87" cy="855.33" r="3.51" fill="#ffac5c"/>
<circle cx="2209.03" cy="855.61" r="3.51" fill="#ffa95b"/>
<circle cx="2214.01" cy="855.51" r="3.51" fill="#ffa759"/>
<circle cx="2218.33" cy="855.36" r="3.51" fill="#ffa558"/>
<circle cx="2220.9" cy="855.28" r="3.51" fill="#ffa558"/>
<circle cx="2222.7" cy="855.13" r="3.51" fill="#ffa256"/>
<circle cx="2225.63" cy="854.68" r="3.51" fill="#ffa055"/>
<circle cx="2229.3" cy="853.99" r="3.51" fill="#ff9d53"/>
<circle cx="2232.79" cy="853.2" r="3.51" fill="#ff9b52"/>
<circle cx="2235" cy="852.33" r="3.51" fill="#ff9850"/>
<circle cx="2235.29" cy="851.76" r="3.51" fill="#ff964f"/>
<circle cx="2233.43" cy="851.74" r="3.51" fill="#ff964f"/>
<circle cx="2230.41" cy="852.15" r="3.51" fill="#ff934d"/>
<circle cx="2227.17" cy="852.69" r="3.51" fill="#ff914c"/>
<circle cx="2226.29" cy="852.69" r="3.51" fill="#ff8e4a"/>
<circle cx="2224.72" cy="853.21" r="3.51" fill="#ff8c49"/>
<circle cx="2221.11" cy="854.36" r="3.51" fill="#ff8947"/>
<circle cx="2218.3" cy="855.59" r="3.51" fill="#ff8646"/>
<circle cx="2215.99" cy="856.87" r="3.51" fill="#ff8444"/>
<circle cx="2213.59" cy="858.24" r="3.51" fill="#ff8444"/>
<circle cx="2212.24" cy="859.49" r="3.51" fill="#ff8143"/>
<circle cx="2209.68" cy="860.85" r="3.51" fill="#ff7e41"/>
<circle cx="2205.11" cy="862.3" r="3.51" fill="#ff7b40"/>
<circle cx="2202.31" cy="863.1" r="3.51" fill="#ff793e"/>
<circle cx="2199.32" cy="863.61" r="3.51" fill="#ff763d"/>
<circle cx="2198.39" cy="863.56" r="3.51" fill="#ff733b"/>
<circle cx="2198.71" cy="863.32" r="3.51" fill="#ff733b"/>
<circle cx="2200.11" cy="863.16" r="3.51" fill="#ff703a"/>
<circle cx="2202.23" cy="863.07" r="3.51" fill="#ff6d38"/>
<circle cx="2205.16" cy="863.11" r="3.51" fill="#ff6b37"/>
<circle cx="2208.84" cy="863.12" r="3.51" fill="#ff6835"/>
<circle cx="2213.26" cy="862.83" r="3.51" fill="#ff6533"/>
<circle cx="2217.4" cy="861.96" r="3.51" fill="#ff6232"/>
<circle cx="2220.4" cy="860.35" r="3.51" fill="#ff5f30"/>
<circle cx="2220.71" cy="858.19" r="3.51" fill="#ff5f30"/>
<circle cx="2220.52" cy="856.01" r="3.51" fill="#ff5c2f"/>
<circle cx="2220.01" cy="853.97" r="3.51" fill="#ff592d"/>
<circle cx="2218.35" cy="851.55" r="3.51" fill="#ff562c"/>
<circle cx="2214.77" cy="847.07" r="3.51" fill="#ff532a"/>
<circle cx="2210.59" cy="841.09" r="3.51" fill="#ff5029"/>
<circle cx="2210.59" cy="834.36" r="3.51" fill="#ff4d27"/>
<circle cx="2214.32" cy="827.92" r="3.51" fill="#ff4d27"/>
<circle cx="2220.76" cy="821.94" r="3.51" fill="#ff4a26"/>
<circle cx="2228.99" cy="815.66" r="3.51" fill="#ff4724"/>
<circle cx="2238.71" cy="809.67" r="3.51" fill="#ff4422"/>
<circle cx="2248.43" cy="804.14" r="3.51" fill="#ff4121"/>
<circle cx="2259.35" cy="797.71" r="3.51" fill="#ff3e1f"/>
<circle cx="2270.87" cy="791.72" r="3.51" fill="#ff3b1e"/>
<circle cx="2281.79" cy="785.44" r="3.51" fill="#ff3b1e"/>
<circle cx="2293.61" cy="778.71" r="3.51" fill="#ff381c"/>
<circle cx="2305.43" cy="771.53" r="3.51" fill="#ff351b"/>
<circle cx="2316.43" cy="764.14" r="3.51" fill="#ff3219"/>
<circle cx="2328.55" cy="756.06" r="3.51" fill="#ff2f18"/>
<circle cx="2339.92" cy="747.38" r="3.51" fill="#ff2c16"/>
<circle cx="2350.54" cy="739.15" r="3.51" fill="#ff2914"/>
<circle cx="2361.31" cy="729.88" r="3.51" fill="#ff2613"/>
<circle cx="2372.08" cy="720.16" r="3.51" fill="#ff2613"/>
<circle cx="2381.65" cy="710.73" r="3.51" fill="#ff2211"/>
<circle cx="2391.53" cy="700.56" r="3.51" fill="#ff1f10"/>
<circle cx="2401.1" cy="689.79" r="3.51" fill="#ff1c0e"/>
<circle cx="2409.63" cy="679.62" r="3.51" fill="#ff190d"/>
<circle cx="2418.16" cy="668.1" r="3.51" fill="#ff160b"/>
<circle cx="2426.23" cy="656.43" r="3.51" fill="#ff1309"/>
<circle cx="2433.11" cy="644.91" r="3.51" fill="#ff1309"/>
<circle cx="2439.85" cy="632.49" r="3.51" fill="#ff1008"/>
<circle cx="2445.98" cy="619.93" r="3.51" fill="#ff0d06"/>
<circle cx="2451.37" cy="607.81" r="3.51" fill="#ff0905"/>
<circle cx="2456.3" cy="594.8" r="3.51" fill="#ff0603"/>
<circle cx="2460.64" cy="581.63" r="3.51" fill="#ff0302"/>
<circle cx="2464.38" cy="569.07" r="3.51" fill="#ff0000"/>
<circle cx="2467.37" cy="555.9" r="3.51" fill="#ff0000"/>
</g>
<path class="g" d="M1679 933.702V43.52M1797 933.702V43.52M1915 933.702V43.52M2032 933.702V43.52M2150 933.702V43.52M2268 933.702V43.52M2385 933.702V43.52M2503 933.702V43.52M2621 933.702V43.52M1679.165 934H2620.863M1679.165 822H2620.863M1679.165 711H2620.863M1679.165 600H2620.863M1679.165 489H2620.863M1679.165 377H2620.863M1679.165 266H2620.863M1679.165 155H2620.863M1679.165 44H2620.863"/>
<path class="k" d="M1679 934v7.778M1797 934v7.778M1915 934v7.778M2032 934v7.778M2150 934v7.778M2268 934v7.778M2385 934v7.778M2503 934v7.778M2621 934v7.778M1679 934h-7.778M1679 822h-7.778M1679 711h-7.778M1679 600h-7.778M1679 489h-7.778M1679 377h-7.778M1679 266h-7.778M1679 155h-7.778M1679 44h-7.778"/>
<rect class="s" x="1679" y="44" width="942" height="890"/>
<rect x="2626.43" y="43.52" width="44.51" height="890.18" fill="url(#rb)"/>
<rect class="s" x="2626" y="44" width="45" height="890"/>
<path class="k" d="M2671 493h7.778M2671 44h7.778"/>
<g clip-path="url(#c2)">
<circle cx="544.22" cy="1587.45" r="3.51" fill="#8000ff"/>
<circle cx="543.48" cy="1630.75" r="3.51" fill="#8000ff"/>
<circle cx="542.1" cy="1679.15" r="3.51" fill="#7e03ff"/>
<circle cx="540.07" cy="1721.7" r="3.51" fill="#7c06ff"/>
<circle cx="537.53" cy="1752.7" r="3.51" fill="#7a09ff"/>
<circle cx="534.61" cy="1774.91" r="3.51" fill="#780dff"/>
<circle cx="531.45" cy="1786.5" r="3.51" fill="#7610ff"/>
<circle cx="528.2" cy="1788.7" r="3.51" fill="#7413ff"/>
<circle cx="524.97" cy="1783.19" r="3.51" fill="#7413ff"/>
<circle cx="521.81" cy="1777.88" r="3.51" fill="#7216ff"/>
<circle cx="518.72" cy="1773.87" r="3.51" fill="#7019ff"/>
<circle cx="515.68" cy="1771.76" r="3.51" fill="#6e1cff"/>
<circle cx="512.65" cy="1770.97" r="3.51" fill="#6c1fff"/>
<circle cx="509.63" cy="1770.56" r="3.51" fill="#6a22fe"/>
<circle cx="506.62" cy="1770.56" r="3.51" fill="#6826fe"/>
<circle cx="503.6" cy="1771.13" r="3.51" fill="#6826fe"/>
<circle cx="500.57" cy="1772.37" r="3.51" fill="#6629fe"/>
<circle cx="497.52" cy="1774" r="3.51" fill="#642cfe"/>
<circle cx="494.43" cy="1777.23" r="3.51" fill="#622ffe"/>
<circle cx="491.29" cy="1781.31" r="3.51" fill="#6032fe"/>
<circle cx="488.09" cy="1787.02" r="3.51" fill="#5e35fe"/>
<circle cx="484.8" cy="1792.75" r="3.51" fill="#5c38fd"/>
<circle cx="481.43" cy="1799.2" r="3.51" fill="#5a3bfd"/>
<circle cx="477.95" cy="1807.26" r="3.51" fill="#5a3bfd"/>
<circle cx="474.36" cy="1815.35" r="3.51" fill="#583efd"/>
<circle cx="470.66" cy="1823.52" r="3.51" fill="#5641fd"/>
<circle cx="466.83" cy="1833.87" r="3.51" fill="#5444fd"/>
<circle cx="462.84" cy="1845.7" r="3.51" fill="#5247fc"/>
<circle cx="458.68" cy="1857.06" r="3.51" fill="#504afc"/>
<circle cx="454.37" cy="1868.24" r="3.51" fill="#4e4dfc"/>
<circle cx="449.9" cy="1879.69" r="3.51" fill="#4e4dfc"/>
<circle cx="445.26" cy="1890.79" r="3.51" fill="#4c50fc"/>
<circle cx="440.49" cy="1900.37" r="3.51" fill="#4a53fb"/>
<circle cx="435.58" cy="1909.41" r="3.51" fill="#4856fb"/>
<circle cx="430.55" cy="1917.7" r="3.51" fill="#4659fb"/>
<circle cx="425.41" cy="1923.97" r="3.51" fill="#445cfb"/>
<circle cx="420.19" cy="1929.85" r="3.51" fill="#425ffa"/>
<circle cx="414.9" cy="1934.14" r="3.51" fill="#4062fa"/>
<circle cx="409.56" cy="1936.92" r="3.51" fill="#4062fa"/>
<circle cx="404.18" cy="1939.29" r="3.51" fill="#3e65fa"/>
<circle cx="398.78" cy="1939.72" r="3.51" fill="#3c68f9"/>
<circle cx="393.38" cy="1939.23" r="3.51" fill="#396bf9"/>
<circle cx="388" cy="1937.7" r="3.51" fill="#386df9"/>
<circle cx="382.65" cy="1935.2" r="3.51" fill="#3670f8"/>
<circle cx="377.34" cy="1931.6" r="3.51" fill="#3473f8"/>
<circle cx="372.08" cy="1926.77" r="3.51" fill="#3473f8"/>
<circle cx="366.9" cy="1921.83" r="3.51" fill="#3176f8"/>
<circle cx="361.79" cy="1916.15" r="3.51" fill="#3079f7"/>
<circle cx="356.77" cy="1909.58" r="3.51" fill="#2e7bf7"/>
<circle cx="351.85" cy="1901.31" r="3.51" fill="#2c7ef7"/>
<circle cx="347.06" cy="1891.31" r="3.51" fill="#2981f6"/>
<circle cx="342.43" cy="1878.17" r="3.51" fill="#2884f6"/>
<circle cx="338.02" cy="1861.5" r="3.51" fill="#2884f6"/>
<circle cx="333.86" cy="1840.89" r="3.51" fill="#2686f5"/>
<circle cx="330.03" cy="1815.68" r="3.51" fill="#2489f5"/>
<circle cx="326.59" cy="1785.97" r="3.51" fill="#218cf4"/>
<circle cx="323.58" cy="1753.99" r="3.51" fill="#208ef4"/>
<circle cx="321.05" cy="1717.42" r="3.51" fill="#1e91f3"/>
<circle cx="319.06" cy="1677.76" r="3.51" fill="#1c93f3"/>
<circle cx="317.65" cy="1636.03" r="3.51" fill="#1996f3"/>
<circle cx="316.83" cy="1593.66" r="3.51" fill="#1996f3"/>
<circle cx="316.62" cy="1550.49" r="3.51" fill="#1898f2"/>
<circle cx="316.96" cy="1514.61" r="3.51" fill="#169bf2"/>
<circle cx="317.78" cy="1482.83" r="3.51" fill="#149df1"/>
<circle cx="319.09" cy="1444.52" r="3.51" fill="#11a0f1"/>
<circle cx="321.02" cy="1396.09" r="3.51" fill="#10a2f0"/>
<circle cx="323.64" cy="1347.72" r="3.51" fill="#0ea5ef"/>
<circle cx="326.88" cy="1306.17" r="3.51" fill="#0ea5ef"/>
<circle cx="330.6" cy="1280.34" r="3.51" fill="#0ca7ef"/>
<circle cx="334.59" cy="1268.48" r="3.51" fill="#09a9ee"/>
<circle cx="338.67" cy="1267.11" r="3.51" fill="#08acee"/>
<circle cx="342.73" cy="1270.98" r="3.51" fill="#06aeed"/>
<circle cx="346.76" cy="1270.54" r="3.51" fill="#04b0ed"/>
<circle cx="350.84" cy="1265.44" r="3.51" fill="#01b3ec"/>
<circle cx="355.01" cy="1255.95" r="3.51" fill="#00b5eb"/>
<circle cx="359.35" cy="1242.46" r="3.51" fill="#00b5eb"/>
<circle cx="363.89" cy="1228.71" r="3.51" fill="#02b7eb"/>
<circle cx="368.6" cy="1217.17" r="3.51" fill="#04b9ea"/>
<circle cx="373.44" cy="1210" r="3.51" fill="#07bbea"/>
<circle cx="378.35" cy="1207.06" r="3.51" fill="#08bee9"/>
<circle cx="383.29" cy="1206.14" r="3.51" fill="#0ac0e8"/>
<circle cx="388.24" cy="1205.72" r="3.51" fill="#0dc2e8"/>
<circle cx="393.21" cy="1203.99" r="3.51" fill="#0dc2e8"/>
<circle cx="398.19" cy="1203.23" r="3.51" fill="#0fc4e7"/>
<circle cx="403.18" cy="1203.16" r="3.51" fill="#10c6e6"/>
<circle cx="408.16" cy="1204.31" r="3.51" fill="#12c8e6"/>
<circle cx="413.09" cy="1209.24" r="3.51" fill="#14cae5"/>
<circle cx="418" cy="1208.68" r="3.51" fill="#17cbe4"/>
<circle cx="422.94" cy="1204.84" r="3.51" fill="#18cde4"/>
<circle cx="427.91" cy="1204.26" r="3.51" fill="#18cde4"/>
<circle cx="432.86" cy="1206.61" r="3.51" fill="#1acfe3"/>
<circle cx="437.79" cy="1208.22" r="3.51" fill="#1dd1e2"/>
<circle cx="442.71" cy="1208.24" r="3.51" fill="#1fd3e1"/>
<circle cx="447.62" cy="1209.28" r="3.51" fill="#20d5e1"/>
<circle cx="452.46" cy="1217.33" r="3.51" fill="#22d6e0"/>
<circle cx="457.12" cy="1236.12" r="3.51" fill="#24d8df"/>
<circle cx="461.53" cy="1252.04" r="3.51" fill="#27dade"/>
<circle cx="465.79" cy="1257.68" r="3.51" fill="#27dade"/>
<circle cx="469.92" cy="1270.11" r="3.51" fill="#28dbde"/>
<circle cx="473.82" cy="1289.68" r="3.51" fill="#2adddd"/>
<circle cx="477.47" cy="1306.38" r="3.51" fill="#2ddedc"/>
<circle cx="480.9" cy="1321.46" r="3.51" fill="#2fe0db"/>
<circle cx="484.08" cy="1340.94" r="3.51" fill="#30e1da"/>
<circle cx="486.96" cy="1363.76" r="3.51" fill="#32e3da"/>
<circle cx="489.5" cy="1389.7" r="3.51" fill="#32e3da"/>
<circle cx="491.67" cy="1417.01" r="3.51" fill="#34e4d9"/>
<circle cx="493.46" cy="1442.58" r="3.51" fill="#37e6d8"/>
<circle cx="494.88" cy="1468.86" r="3.51" fill="#38e7d7"/>
<circle cx="495.96" cy="1492.2" r="3.51" fill="#3ae8d6"/>
<circle cx="496.73" cy="1512.44" r="3.51" fill="#3dead5"/>
<circle cx="497.21" cy="1532.7" r="3.51" fill="#3febd5"/>
<circle cx="497.4" cy="1554.3" r="3.51" fill="#40ecd4"/>
<circle cx="497.28" cy="1575.87" r="3.51" fill="#40ecd4"/>
<circle cx="496.83" cy="1601.93" r="3.51" fill="#42edd3"/>
<circle cx="496.01" cy="1628.44" r="3.51" fill="#44eed2"/>
<circle cx="494.82" cy="1653.3" r="3.51" fill="#46efd1"/>
<circle cx="493.26" cy="1682.71" r="3.51" fill="#48f1d0"/>
<circle cx="491.26" cy="1713.5" r="3.51" fill="#4af2cf"/>
<circle cx="488.86" cy="1741.79" r="3.51" fill="#4df3ce"/>
<circle cx="486.06" cy="1768.18" r="3.51" fill="#4df3ce"/>
<circle cx="482.92" cy="1791.73" r="3.51" fill="#4ef3cd"/>
<circle cx="479.47" cy="1810.96" r="3.51" fill="#50f4cc"/>
<circle cx="475.75" cy="1829.39" r="3.51" fill="#52f5cb"/>
<circle cx="471.78" cy="1848.04" r="3.51" fill="#54f6cb"/>
<circle cx="467.58" cy="1860.66" r="3.51" fill="#56f7ca"/>
<circle cx="463.24" cy="1868.93" r="3.51" fill="#58f8c9"/>
<circle cx="458.78" cy="1877.12" r="3.51" fill="#58f8c9"/>
<circle cx="454.21" cy="1884.59" r="3.51" fill="#5af8c8"/>
<circle cx="449.54" cy="1891.54" r="3.51" fill="#5df9c7"/>
<circle cx="444.77" cy="1898.1" r="3.51" fill="#5efac6"/>
<circle cx="439.92" cy="1904.01" r="3.51" fill="#60fac5"/>
<circle cx="434.99" cy="1907.62" r="3.51" fill="#62fbc4"/>
<circle cx="430.03" cy="1909.87" r="3.51" fill="#64fbc3"/>
<circle cx="425.04" cy="1911.76" r="3.51" fill="#66fcc2"/>
<circle cx="420.01" cy="1914.38" r="3.51" fill="#66fcc2"/>
<circle cx="414.95" cy="1916.88" r="3.51" fill="#68fcc1"/>
<circle cx="409.86" cy="1918.24" r="3.51" fill="#6afdc0"/>
<circle cx="404.76" cy="1918.78" r="3.51" fill="#6dfdbf"/>
<circle cx="399.66" cy="1918.33" r="3.51" fill="#6efebe"/>
<circle cx="394.57" cy="1917.55" r="3.51" fill="#70febc"/>
<circle cx="389.49" cy="1916.61" r="3.51" fill="#72febb"/>
<circle cx="384.42" cy="1914.88" r="3.51" fill="#72febb"/>
<circle cx="379.39" cy="1913.12" r="3.51" fill="#74feba"/>
<circle cx="374.37" cy="1912.05" r="3.51" fill="#76ffb9"/>
<circle cx="369.35" cy="1912.55" r="3.51" fill="#78ffb8"/>
<circle cx="364.34" cy="1911.69" r="3.51" fill="#7affb7"/>
<circle cx="359.36" cy="1908.6" r="3.51" fill="#7dffb6"/>
<circle cx="354.43" cy="1903.54" r="3.51" fill="#7effb5"/>
<circle cx="349.59" cy="1895.71" r="3.51" fill="#80ffb4"/>
<circle cx="344.87" cy="1887.57" r="3.51" fill="#80ffb4"/>
<circle cx="340.26" cy="1879.44" r="3.51" fill="#82ffb3"/>
<circle cx="335.76" cy="1871.74" r="3.51" fill="#84ffb2"/>
<circle cx="331.37" cy="1864.63" r="3.51" fill="#86ffb0"/>
<circle cx="327.09" cy="1856.42" r="3.51" fill="#88ffaf"/>
<circle cx="322.94" cy="1844.98" r="3.51" fill="#8bfeae"/>
<circle cx="318.98" cy="1829.35" r="3.51" fill="#8cfead"/>
<circle cx="315.28" cy="1808.37" r="3.51" fill="#8cfead"/>
<circle cx="311.94" cy="1779.45" r="3.51" fill="#8efeac"/>
<circle cx="309" cy="1749.61" r="3.51" fill="#90feab"/>
<circle cx="306.49" cy="1719.7" r="3.51" fill="#92fda9"/>
<circle cx="304.39" cy="1690.88" r="3.51" fill="#94fda8"/>
<circle cx="302.67" cy="1666.59" r="3.51" fill="#96fca7"/>
<circle cx="301.31" cy="1640.33" r="3.51" fill="#99fca6"/>
<circle cx="300.33" cy="1612.42" r="3.51" fill="#99fca6"/>
<circle cx="299.77" cy="1579.51" r="3.51" fill="#9bfba5"/>
<circle cx="299.7" cy="1543.92" r="3.51" fill="#9cfba4"/>
<circle cx="300.16" cy="1506.03" r="3.51" fill="#9efaa2"/>
<circle cx="301.15" cy="1467.05" r="3.51" fill="#a0faa1"/>
<circle cx="302.7" cy="1427.2" r="3.51" fill="#a2f9a0"/>
<circle cx="304.81" cy="1387.72" r="3.51" fill="#a4f89f"/>
<circle cx="307.46" cy="1351.03" r="3.51" fill="#a6f89d"/>
<circle cx="310.58" cy="1320.83" r="3.51" fill="#a6f89d"/>
<circle cx="314.1" cy="1293.7" r="3.51" fill="#a8f79c"/>
<circle cx="317.97" cy="1271.49" r="3.51" fill="#abf69b"/>
<circle cx="322.11" cy="1255.37" r="3.51" fill="#acf59a"/>
<circle cx="326.45" cy="1243.47" r="3.51" fill="#aef498"/>
<circle cx="330.94" cy="1233.82" r="3.51" fill="#b0f397"/>
<circle cx="335.56" cy="1224.35" r="3.51" fill="#b2f396"/>
<circle cx="340.33" cy="1213.69" r="3.51" fill="#b2f396"/>
<circle cx="345.24" cy="1204.04" r="3.51" fill="#b4f295"/>
<circle cx="350.27" cy="1196.91" r="3.51" fill="#b6f193"/>
<circle cx="355.38" cy="1192.43" r="3.51" fill="#b9ef92"/>
<circle cx="360.54" cy="1189.44" r="3.51" fill="#bbee91"/>
<circle cx="365.74" cy="1187.13" r="3.51" fill="#bced8f"/>
<circle cx="370.96" cy="1186.09" r="3.51" fill="#beec8e"/>
<circle cx="376.19" cy="1185.38" r="3.51" fill="#c0eb8d"/>
<circle cx="381.44" cy="1184.58" r="3.51" fill="#c0eb8d"/>
<circle cx="386.69" cy="1183.85" r="3.51" fill="#c2ea8c"/>
<circle cx="391.96" cy="1183.42" r="3.51" fill="#c4e88a"/>
<circle cx="397.23" cy="1183.11" r="3.51" fill="#c6e789"/>
<circle cx="402.5" cy="1182.99" r="3.51" fill="#c8e688"/>
<circle cx="407.77" cy="1183.59" r="3.51" fill="#cbe486"/>
<circle cx="413.03" cy="1184.01" r="3.51" fill="#cce385"/>
<circle cx="418.29" cy="1184.21" r="3.51" fill="#cce385"/>
<circle cx="423.54" cy="1184.88" r="3.51" fill="#cee184"/>
<circle cx="428.78" cy="1186.01" r="3.51" fill="#d0e082"/>
<circle cx="433.99" cy="1188.44" r="3.51" fill="#d2de81"/>
<circle cx="439.16" cy="1192.48" r="3.51" fill="#d4dd80"/>
<circle cx="444.25" cy="1198.24" r="3.51" fill="#d6db7e"/>
<circle cx="449.26" cy="1204.96" r="3.51" fill="#d9da7d"/>
<circle cx="454.17" cy="1213.12" r="3.51" fill="#d9da7d"/>
<circle cx="458.95" cy="1222.39" r="3.51" fill="#dbd87b"/>
<circle cx="463.6" cy="1231.97" r="3.51" fill="#dcd67a"/>
<circle cx="468.1" cy="1243.54" r="3.51" fill="#ded579"/>
<circle cx="472.42" cy="1257.11" r="3.51" fill="#e0d377"/>
<circle cx="476.56" cy="1269.99" r="3.51" fill="#e2d176"/>
<circle cx="480.51" cy="1282.75" r="3.51" fill="#e4cf74"/>
<circle cx="484.3" cy="1294.06" r="3.51" fill="#e6cd73"/>
<circle cx="487.95" cy="1302.23" r="3.51" fill="#e6cd73"/>
<circle cx="491.49" cy="1308.88" r="3.51" fill="#e8cb72"/>
<circle cx="494.96" cy="1312.08" r="3.51" fill="#ebca70"/>
<circle cx="498.4" cy="1314.15" r="3.51" fill="#ecc86f"/>
<circle cx="501.8" cy="1317.46" r="3.51" fill="#eec66d"/>
<circle cx="505.14" cy="1322.33" r="3.51" fill="#f0c46c"/>
<circle cx="508.42" cy="1327.3" r="3.51" fill="#f2c26b"/>
<circle cx="511.62" cy="1331.81" r="3.51" fill="#f2c26b"/>
<circle cx="514.74" cy="1338.95" r="3.51" fill="#f4c069"/>
<circle cx="517.76" cy="1347.38" r="3.51" fill="#f6be68"/>
<circle cx="520.66" cy="1354.8" r="3.51" fill="#f9bb66"/>
<circle cx="523.46" cy="1361.84" r="3.51" fill="#fbb965"/>
<circle cx="526.17" cy="1367.84" r="3.51" fill="#fcb763"/>
<circle cx="528.81" cy="1371.23" r="3.51" fill="#feb562"/>
<circle cx="531.42" cy="1371.69" r="3.51" fill="#ffb360"/>
<circle cx="534.04" cy="1370.82" r="3.51" fill="#ffb360"/>
<circle cx="536.68" cy="1368.51" r="3.51" fill="#ffb05f"/>
<circle cx="539.37" cy="1363.83" r="3.51" fill="#ffae5e"/>
<circle cx="542.13" cy="1358.14" r="3.51" fill="#ffac5c"/>
<circle cx="544.95" cy="1355.67" r="3.51" fill="#ffa95b"/>
<circle cx="547.8" cy="1354.75" r="3.51" fill="#ffa759"/>
<circle cx="550.66" cy="1353.41" r="3.51" fill="#ffa558"/>
<circle cx="553.54" cy="1350.98" r="3.51" fill="#ffa558"/>
<circle cx="556.47" cy="1348.14" r="3.51" fill="#ffa256"/>
<circle cx="559.42" cy="1346.32" r="3.51" fill="#ffa055"/>
<circle cx="562.4" cy="1345.2" r="3.51" fill="#ff9d53"/>
<circle cx="565.39" cy="1344.08" r="3.51" fill="#ff9b52"/>
<circle cx="568.41" cy="1342.22" r="3.51" fill="#ff9850"/>
<circle cx="571.46" cy="1339.02" r="3.51" fill="#ff964f"/>
<circle cx="574.56" cy="1334.18" r="3.51" fill="#ff964f"/>
<circle cx="577.74" cy="1328.46" r="3.51" fill="#ff934d"/>
<circle cx="581.01" cy="1322.66" r="3.51" fill="#ff914c"/>
<circle cx="584.34" cy="1318.85" r="3.51" fill="#ff8e4a"/>
<circle cx="587.73" cy="1314.33" r="3.51" fill="#ff8c49"/>
<circle cx="591.19" cy="1308.26" r="3.51" fill="#ff8947"/>
<circle cx="594.73" cy="1302.74" r="3.51" fill="#ff8646"/>
<circle cx="598.35" cy="1297.58" r="3.51" fill="#ff8444"/>
<circle cx="602.05" cy="1292.41" r="3.51" fill="#ff8444"/>
<circle cx="605.81" cy="1288.03" r="3.51" fill="#ff8143"/>
<circle cx="609.64" cy="1282.99" r="3.51" fill="#ff7e41"/>
<circle cx="613.54" cy="1276.92" r="3.51" fill="#ff7b40"/>
<circle cx="617.52" cy="1272.47" r="3.51" fill="#ff793e"/>
<circle cx="621.56" cy="1268.28" r="3.51" fill="#ff763d"/>
<circle cx="625.65" cy="1265.74" r="3.51" fill="#ff733b"/>
<circle cx="629.77" cy="1264.06" r="3.51" fill="#ff733b"/>
<circle cx="633.9" cy="1262.92" r="3.51" fill="#ff703a"/>
<circle cx="638.06" cy="1262.09" r="3.51" fill="#ff6d38"/>
<circle cx="642.22" cy="1261.57" r="3.51" fill="#ff6b37"/>
<circle cx="646.38" cy="1261.43" r="3.51" fill="#ff6835"/>
<circle cx="650.55" cy="1261.88" r="3.51" fill="#ff6533"/>
<circle cx="654.7" cy="1262.69" r="3.51" fill="#ff6232"/>
<circle cx="658.84" cy="1263.73" r="3.51" fill="#ff5f30"/>
<circle cx="662.97" cy="1264.05" r="3.51" fill="#ff5f30"/>
<circle cx="667.1" cy="1264.24" r="3.51" fill="#ff5c2f"/>
<circle cx="671.23" cy="1264.24" r="3.51" fill="#ff592d"/>
<circle cx="675.36" cy="1264.15" r="3.51" fill="#ff562c"/>
<circle cx="679.11" cy="1264.93" r="3.51" fill="#ff532a"/>
<circle cx="683.21" cy="1267.08" r="3.51" fill="#ff5029"/>
<circle cx="687.27" cy="1271.79" r="3.51" fill="#ff4d27"/>
<circle cx="691.24" cy="1277.85" r="3.51" fill="#ff4d27"/>
<circle cx="695.13" cy="1284.62" r="3.51" fill="#ff4a26"/>
<circle cx="698.92" cy="1292.35" r="3.51" fill="#ff4724"/>
<circle cx="702.59" cy="1300.35" r="3.51" fill="#ff4422"/>
<circle cx="706.15" cy="1307.86" r="3.51" fill="#ff4121"/>
<circle cx="709.6" cy="1316.56" r="3.51" fill="#ff3e1f"/>
<circle cx="712.93" cy="1324.97" r="3.51" fill="#ff3b1e"/>
<circle cx="716.15" cy="1333.31" r="3.51" fill="#ff3b1e"/>
<circle cx="719.23" cy="1342.29" r="3.51" fill="#ff381c"/>
<circle cx="722.2" cy="1351.55" r="3.51" fill="#ff351b"/>
<circle cx="725.03" cy="1360.6" r="3.51" fill="#ff3219"/>
<circle cx="727.72" cy="1370.55" r="3.51" fill="#ff2f18"/>
<circle cx="730.28" cy="1380.67" r="3.51" fill="#ff2c16"/>
<circle cx="732.7" cy="1389.99" r="3.51" fill="#ff2914"/>
<circle cx="734.98" cy="1400.23" r="3.51" fill="#ff2613"/>
<circle cx="737.11" cy="1410.78" r="3.51" fill="#ff2613"/>
<circle cx="739.11" cy="1420.55" r="3.51" fill="#ff2211"/>
<circle cx="740.95" cy="1431.02" r="3.51" fill="#ff1f10"/>
<circle cx="742.65" cy="1441.86" r="3.51" fill="#ff1c0e"/>
<circle cx="744.2" cy="1451.73" r="3.51" fill="#ff190d"/>
<circle cx="745.61" cy="1462.8" r="3.51" fill="#ff160b"/>
<circle cx="746.86" cy="1473.8" r="3.51" fill="#ff1309"/>
<circle cx="747.95" cy="1484.25" r="3.51" fill="#ff1309"/>
<circle cx="748.9" cy="1495.48" r="3.51" fill="#ff1008"/>
<circle cx="749.68" cy="1506.64" r="3.51" fill="#ff0d06"/>
<circle cx="750.32" cy="1517.15" r="3.51" fill="#ff0905"/>
<circle cx="750.8" cy="1528.38" r="3.51" fill="#ff0603"/>
<circle cx="751.12" cy="1539.59" r="3.51" fill="#ff0302"/>
<circle cx="751.29" cy="1550.08" r="3.51" fill="#ff0000"/>
<circle cx="751.31" cy="1560.98" r="3.51" fill="#ff0000"/>
</g>
<path class="g" d="M230 2001.92V1111.738M356 2001.92V1111.738M482 2001.92V1111.738M607 2001.92V1111.738M733 2001.92V1111.738M858 2001.92V1111.738M984 2001.92V1111.738M1109 2001.92V1111.738M230.4 2002H1172.097M230.4 1891H1172.097M230.4 1779H1172.097M230.4 1668H1172.097M230.4 1557H1172.097M230.4 1446H1172.097M230.4 1334H1172.097M230.4 1223H1172.097M230.4 1112H1172.097"/>
<path class="k" d="M230 2002v7.778M356 2002v7.778M482 2002v7.778M607 2002v7.778M733 2002v7.778M858 2002v7.778M984 2002v7.778M1109 2002v7.778M230 2002h-7.778M230 1891h-7.778M230 1779h-7.778M230 1668h-7.778M230 1557h-7.778M230 1446h-7.778M230 1334h-7.778M230 1223h-7.778M230 1112h-7.778"/>
<rect class="s" x="230" y="1112" width="942" height="890"/>
<rect x="1177.67" y="1111.74" width="44.51" height="890.18" fill="url(#rb)"/>
<rect class="s" x="1178" y="1112" width="44" height="890"/>
<path class="k" d="M1222 1561h7.778M1222 1112h7.778"/>
<g clip-path="url(#c3)">
<circle cx="1688.58" cy="1500.05" r="3.51" fill="#8000ff"/>
<circle cx="1691.72" cy="1493.32" r="3.51" fill="#8000ff"/>
<circle cx="1694.86" cy="1477.91" r="3.51" fill="#7e03ff"/>
<circle cx="1698" cy="1456.82" r="3.51" fill="#7c06ff"/>
<circle cx="1701.14" cy="1435.72" r="3.51" fill="#7a09ff"/>
<circle cx="1704.28" cy="1418.82" r="3.51" fill="#780dff"/>
<circle cx="1707.42" cy="1412.09" r="3.51" fill="#7610ff"/>
<circle cx="1710.56" cy="1417.02" r="3.51" fill="#7413ff"/>
<circle cx="1713.69" cy="1429.74" r="3.51" fill="#7413ff"/>
<circle cx="1716.83" cy="1440.96" r="3.51" fill="#7216ff"/>
<circle cx="1719.97" cy="1449.19" r="3.51" fill="#7019ff"/>
<circle cx="1723.11" cy="1454.28" r="3.51" fill="#6e1cff"/>
<circle cx="1726.25" cy="1459.96" r="3.51" fill="#6c1fff"/>
<circle cx="1729.39" cy="1465.5" r="3.51" fill="#6a22fe"/>
<circle cx="1732.53" cy="1471.18" r="3.51" fill="#6826fe"/>
<circle cx="1735.67" cy="1477.16" r="3.51" fill="#6826fe"/>
<circle cx="1738.81" cy="1482.7" r="3.51" fill="#6629fe"/>
<circle cx="1741.95" cy="1489.43" r="3.51" fill="#642cfe"/>
<circle cx="1745.08" cy="1495.87" r="3.51" fill="#622ffe"/>
<circle cx="1748.22" cy="1501.1" r="3.51" fill="#6032fe"/>
<circle cx="1751.36" cy="1506.34" r="3.51" fill="#5e35fe"/>
<circle cx="1754.5" cy="1510.83" r="3.51" fill="#5c38fd"/>
<circle cx="1757.64" cy="1512.77" r="3.51" fill="#5a3bfd"/>
<circle cx="1760.78" cy="1512.77" r="3.51" fill="#5a3bfd"/>
<circle cx="1763.92" cy="1510.83" r="3.51" fill="#583efd"/>
<circle cx="1767.06" cy="1507.09" r="3.51" fill="#5641fd"/>
<circle cx="1770.2" cy="1500.05" r="3.51" fill="#5444fd"/>
<circle cx="1773.33" cy="1489.13" r="3.51" fill="#5247fc"/>
<circle cx="1776.47" cy="1473.87" r="3.51" fill="#504afc"/>
<circle cx="1779.61" cy="1455.92" r="3.51" fill="#4e4dfc"/>
<circle cx="1782.75" cy="1433.78" r="3.51" fill="#4e4dfc"/>
<circle cx="1785.89" cy="1407.6" r="3.51" fill="#4c50fc"/>
<circle cx="1789.03" cy="1382.17" r="3.51" fill="#4a53fb"/>
<circle cx="1792.17" cy="1353.09" r="3.51" fill="#4856fb"/>
<circle cx="1795.31" cy="1321.23" r="3.51" fill="#4659fb"/>
<circle cx="1798.45" cy="1290.26" r="3.51" fill="#445cfb"/>
<circle cx="1801.59" cy="1257.64" r="3.51" fill="#425ffa"/>
<circle cx="1804.72" cy="1227.87" r="3.51" fill="#4062fa"/>
<circle cx="1807.86" cy="1203.94" r="3.51" fill="#4062fa"/>
<circle cx="1811" cy="1182.39" r="3.51" fill="#3e65fa"/>
<circle cx="1814.14" cy="1166.98" r="3.51" fill="#3c68f9"/>
<circle cx="1817.28" cy="1160.85" r="3.51" fill="#396bf9"/>
<circle cx="1820.42" cy="1159.05" r="3.51" fill="#386df9"/>
<circle cx="1823.56" cy="1164.74" r="3.51" fill="#3670f8"/>
<circle cx="1826.7" cy="1176.26" r="3.51" fill="#3473f8"/>
<circle cx="1829.84" cy="1189.72" r="3.51" fill="#3473f8"/>
<circle cx="1832.98" cy="1199.75" r="3.51" fill="#3176f8"/>
<circle cx="1836.11" cy="1212.16" r="3.51" fill="#3079f7"/>
<circle cx="1839.25" cy="1225.63" r="3.51" fill="#2e7bf7"/>
<circle cx="1842.39" cy="1239.39" r="3.51" fill="#2c7ef7"/>
<circle cx="1845.53" cy="1255.7" r="3.51" fill="#2981f6"/>
<circle cx="1848.67" cy="1277.54" r="3.51" fill="#2884f6"/>
<circle cx="1851.81" cy="1302.52" r="3.51" fill="#2884f6"/>
<circle cx="1854.95" cy="1328.85" r="3.51" fill="#2686f5"/>
<circle cx="1858.09" cy="1356.08" r="3.51" fill="#2489f5"/>
<circle cx="1861.23" cy="1382.91" r="3.51" fill="#218cf4"/>
<circle cx="1864.37" cy="1402.36" r="3.51" fill="#208ef4"/>
<circle cx="1867.5" cy="1415.83" r="3.51" fill="#1e91f3"/>
<circle cx="1870.64" cy="1421.06" r="3.51" fill="#1c93f3"/>
<circle cx="1873.78" cy="1423.61" r="3.51" fill="#1996f3"/>
<circle cx="1876.92" cy="1425.55" r="3.51" fill="#1996f3"/>
<circle cx="1880.06" cy="1417.02" r="3.51" fill="#1898f2"/>
<circle cx="1883.2" cy="1402.36" r="3.51" fill="#169bf2"/>
<circle cx="1886.34" cy="1395.63" r="3.51" fill="#149df1"/>
<circle cx="1889.48" cy="1399.37" r="3.51" fill="#11a0f1"/>
<circle cx="1892.62" cy="1407.6" r="3.51" fill="#10a2f0"/>
<circle cx="1895.76" cy="1410.59" r="3.51" fill="#0ea5ef"/>
<circle cx="1898.89" cy="1394.43" r="3.51" fill="#0ea5ef"/>
<circle cx="1902.03" cy="1382.17" r="3.51" fill="#0ca7ef"/>
<circle cx="1905.17" cy="1384.41" r="3.51" fill="#09a9ee"/>
<circle cx="1908.31" cy="1402.36" r="3.51" fill="#08acee"/>
<circle cx="1911.45" cy="1416.58" r="3.51" fill="#06aeed"/>
<circle cx="1914.59" cy="1414.63" r="3.51" fill="#04b0ed"/>
<circle cx="1917.73" cy="1397.87" r="3.51" fill="#01b3ec"/>
<circle cx="1920.87" cy="1364.51" r="3.51" fill="#00b5eb"/>
<circle cx="1924.01" cy="1336.93" r="3.51" fill="#00b5eb"/>
<circle cx="1927.15" cy="1325.86" r="3.51" fill="#02b7eb"/>
<circle cx="1930.28" cy="1328.85" r="3.51" fill="#04b9ea"/>
<circle cx="1933.42" cy="1336.63" r="3.51" fill="#07bbea"/>
<circle cx="1936.56" cy="1344.56" r="3.51" fill="#08bee9"/>
<circle cx="1939.7" cy="1352.64" r="3.51" fill="#0ac0e8"/>
<circle cx="1942.84" cy="1361.22" r="3.51" fill="#0dc2e8"/>
<circle cx="1945.98" cy="1359.73" r="3.51" fill="#0dc2e8"/>
<circle cx="1949.12" cy="1355.24" r="3.51" fill="#0fc4e7"/>
<circle cx="1952.26" cy="1358.53" r="3.51" fill="#10c6e6"/>
<circle cx="1955.4" cy="1367.95" r="3.51" fill="#12c8e6"/>
<circle cx="1958.54" cy="1389.65" r="3.51" fill="#14cae5"/>
<circle cx="1961.67" cy="1382.91" r="3.51" fill="#17cbe4"/>
<circle cx="1964.81" cy="1360.47" r="3.51" fill="#18cde4"/>
<circle cx="1967.95" cy="1346.81" r="3.51" fill="#18cde4"/>
<circle cx="1971.09" cy="1345.16" r="3.51" fill="#1acfe3"/>
<circle cx="1974.23" cy="1347.85" r="3.51" fill="#1dd1e2"/>
<circle cx="1977.37" cy="1344.86" r="3.51" fill="#1fd3e1"/>
<circle cx="1980.51" cy="1339.18" r="3.51" fill="#20d5e1"/>
<circle cx="1983.65" cy="1359.28" r="3.51" fill="#22d6e0"/>
<circle cx="1986.79" cy="1406.55" r="3.51" fill="#24d8df"/>
<circle cx="1989.93" cy="1426.86" r="3.51" fill="#27dade"/>
<circle cx="1993.06" cy="1403.22" r="3.51" fill="#27dade"/>
<circle cx="1996.2" cy="1397.24" r="3.51" fill="#28dbde"/>
<circle cx="1999.34" cy="1398.74" r="3.51" fill="#2adddd"/>
<circle cx="2002.48" cy="1395.45" r="3.51" fill="#2ddedc"/>
<circle cx="2005.62" cy="1384.52" r="3.51" fill="#2fe0db"/>
<circle cx="2008.76" cy="1381.53" r="3.51" fill="#30e1da"/>
<circle cx="2011.9" cy="1383.78" r="3.51" fill="#32e3da"/>
<circle cx="2015.04" cy="1385.72" r="3.51" fill="#32e3da"/>
<circle cx="2018.18" cy="1387.22" r="3.51" fill="#34e4d9"/>
<circle cx="2021.32" cy="1389.46" r="3.51" fill="#37e6d8"/>
<circle cx="2024.45" cy="1393.95" r="3.51" fill="#38e7d7"/>
<circle cx="2027.59" cy="1399.19" r="3.51" fill="#3ae8d6"/>
<circle cx="2030.73" cy="1403.97" r="3.51" fill="#3dead5"/>
<circle cx="2033.87" cy="1408.01" r="3.51" fill="#3febd5"/>
<circle cx="2037.01" cy="1411.15" r="3.51" fill="#40ecd4"/>
<circle cx="2040.15" cy="1412.95" r="3.51" fill="#40ecd4"/>
<circle cx="2043.29" cy="1412.5" r="3.51" fill="#42edd3"/>
<circle cx="2046.43" cy="1408.01" r="3.51" fill="#44eed2"/>
<circle cx="2049.57" cy="1402.18" r="3.51" fill="#46efd1"/>
<circle cx="2052.71" cy="1395.45" r="3.51" fill="#48f1d0"/>
<circle cx="2055.84" cy="1393.05" r="3.51" fill="#4af2cf"/>
<circle cx="2058.98" cy="1389.76" r="3.51" fill="#4df3ce"/>
<circle cx="2062.12" cy="1385.57" r="3.51" fill="#4df3ce"/>
<circle cx="2065.26" cy="1382.28" r="3.51" fill="#4ef3cd"/>
<circle cx="2068.4" cy="1379.74" r="3.51" fill="#50f4cc"/>
<circle cx="2071.54" cy="1378.24" r="3.51" fill="#52f5cb"/>
<circle cx="2074.68" cy="1370.65" r="3.51" fill="#54f6cb"/>
<circle cx="2077.82" cy="1367.21" r="3.51" fill="#56f7ca"/>
<circle cx="2080.96" cy="1366.16" r="3.51" fill="#58f8c9"/>
<circle cx="2084.1" cy="1364.22" r="3.51" fill="#58f8c9"/>
<circle cx="2087.23" cy="1365.42" r="3.51" fill="#5af8c8"/>
<circle cx="2090.37" cy="1366.46" r="3.51" fill="#5df9c7"/>
<circle cx="2093.51" cy="1364.22" r="3.51" fill="#5efac6"/>
<circle cx="2096.65" cy="1358.68" r="3.51" fill="#60fac5"/>
<circle cx="2099.79" cy="1356.14" r="3.51" fill="#62fbc4"/>
<circle cx="2102.93" cy="1354.2" r="3.51" fill="#64fbc3"/>
<circle cx="2106.07" cy="1351.2" r="3.51" fill="#66fcc2"/>
<circle cx="2109.21" cy="1342.23" r="3.51" fill="#66fcc2"/>
<circle cx="2112.35" cy="1332.2" r="3.51" fill="#68fcc1"/>
<circle cx="2115.49" cy="1325.47" r="3.51" fill="#6afdc0"/>
<circle cx="2118.62" cy="1323.98" r="3.51" fill="#6dfdbf"/>
<circle cx="2121.76" cy="1323.23" r="3.51" fill="#6efebe"/>
<circle cx="2124.9" cy="1323.98" r="3.51" fill="#70febc"/>
<circle cx="2128.04" cy="1324.72" r="3.51" fill="#72febb"/>
<circle cx="2131.18" cy="1328.32" r="3.51" fill="#72febb"/>
<circle cx="2134.32" cy="1330.71" r="3.51" fill="#74feba"/>
<circle cx="2137.46" cy="1323.98" r="3.51" fill="#76ffb9"/>
<circle cx="2140.6" cy="1303.78" r="3.51" fill="#78ffb8"/>
<circle cx="2143.74" cy="1286.13" r="3.51" fill="#7affb7"/>
<circle cx="2146.87" cy="1277.6" r="3.51" fill="#7dffb6"/>
<circle cx="2150.01" cy="1274.91" r="3.51" fill="#7effb5"/>
<circle cx="2153.15" cy="1278.35" r="3.51" fill="#80ffb4"/>
<circle cx="2156.29" cy="1281.64" r="3.51" fill="#80ffb4"/>
<circle cx="2159.43" cy="1286.43" r="3.51" fill="#82ffb3"/>
<circle cx="2162.57" cy="1286.13" r="3.51" fill="#84ffb2"/>
<circle cx="2165.71" cy="1284.63" r="3.51" fill="#86ffb0"/>
<circle cx="2168.85" cy="1283.88" r="3.51" fill="#88ffaf"/>
<circle cx="2171.99" cy="1283.88" r="3.51" fill="#8bfeae"/>
<circle cx="2175.13" cy="1283.58" r="3.51" fill="#8cfead"/>
<circle cx="2178.26" cy="1287.32" r="3.51" fill="#8cfead"/>
<circle cx="2181.4" cy="1294.8" r="3.51" fill="#8efeac"/>
<circle cx="2184.54" cy="1301.84" r="3.51" fill="#90feab"/>
<circle cx="2187.68" cy="1300.79" r="3.51" fill="#92fda9"/>
<circle cx="2190.82" cy="1294.8" r="3.51" fill="#94fda8"/>
<circle cx="2193.96" cy="1288.37" r="3.51" fill="#96fca7"/>
<circle cx="2197.1" cy="1285.38" r="3.51" fill="#99fca6"/>
<circle cx="2200.24" cy="1286.87" r="3.51" fill="#99fca6"/>
<circle cx="2203.38" cy="1290.91" r="3.51" fill="#9bfba5"/>
<circle cx="2206.52" cy="1297.35" r="3.51" fill="#9cfba4"/>
<circle cx="2209.65" cy="1303.33" r="3.51" fill="#9efaa2"/>
<circle cx="2212.79" cy="1302.58" r="3.51" fill="#a0faa1"/>
<circle cx="2215.93" cy="1294.35" r="3.51" fill="#a2f9a0"/>
<circle cx="2219.07" cy="1276.4" r="3.51" fill="#a4f89f"/>
<circle cx="2222.21" cy="1256.65" r="3.51" fill="#a6f89d"/>
<circle cx="2225.35" cy="1236.76" r="3.51" fill="#a6f89d"/>
<circle cx="2228.49" cy="1212.52" r="3.51" fill="#a8f79c"/>
<circle cx="2231.63" cy="1194.12" r="3.51" fill="#abf69b"/>
<circle cx="2234.77" cy="1186.34" r="3.51" fill="#acf59a"/>
<circle cx="2237.91" cy="1186.34" r="3.51" fill="#aef498"/>
<circle cx="2241.04" cy="1192.33" r="3.51" fill="#b0f397"/>
<circle cx="2244.18" cy="1197.11" r="3.51" fill="#b2f396"/>
<circle cx="2247.32" cy="1204.59" r="3.51" fill="#b2f396"/>
<circle cx="2250.46" cy="1210.58" r="3.51" fill="#b4f295"/>
<circle cx="2253.6" cy="1214.32" r="3.51" fill="#b6f193"/>
<circle cx="2256.74" cy="1216.26" r="3.51" fill="#b9ef92"/>
<circle cx="2259.88" cy="1217.61" r="3.51" fill="#bbee91"/>
<circle cx="2263.02" cy="1219.1" r="3.51" fill="#bced8f"/>
<circle cx="2266.16" cy="1224.04" r="3.51" fill="#beec8e"/>
<circle cx="2269.3" cy="1227.03" r="3.51" fill="#c0eb8d"/>
<circle cx="2272.43" cy="1228.23" r="3.51" fill="#c0eb8d"/>
<circle cx="2275.57" cy="1229.28" r="3.51" fill="#c2ea8c"/>
<circle cx="2278.71" cy="1233.47" r="3.51" fill="#c4e88a"/>
<circle cx="2281.85" cy="1237.21" r="3.51" fill="#c6e789"/>
<circle cx="2284.99" cy="1243.49" r="3.51" fill="#c8e688"/>
<circle cx="2288.13" cy="1251.42" r="3.51" fill="#cbe486"/>
<circle cx="2291.27" cy="1257.7" r="3.51" fill="#cce385"/>
<circle cx="2294.41" cy="1261.44" r="3.51" fill="#cce385"/>
<circle cx="2297.55" cy="1263.69" r="3.51" fill="#cee184"/>
<circle cx="2300.69" cy="1264.88" r="3.51" fill="#d0e082"/>
<circle cx="2303.82" cy="1268.92" r="3.51" fill="#d2de81"/>
<circle cx="2306.96" cy="1273.41" r="3.51" fill="#d4dd80"/>
<circle cx="2310.1" cy="1276.48" r="3.51" fill="#d6db7e"/>
<circle cx="2313.24" cy="1277.98" r="3.51" fill="#d9da7d"/>
<circle cx="2316.38" cy="1275.74" r="3.51" fill="#d9da7d"/>
<circle cx="2319.52" cy="1276.48" r="3.51" fill="#dbd87b"/>
<circle cx="2322.66" cy="1277.98" r="3.51" fill="#dcd67a"/>
<circle cx="2325.8" cy="1279.92" r="3.51" fill="#ded579"/>
<circle cx="2328.94" cy="1280.97" r="3.51" fill="#e0d377"/>
<circle cx="2332.08" cy="1281.72" r="3.51" fill="#e2d176"/>
<circle cx="2335.21" cy="1278.73" r="3.51" fill="#e4cf74"/>
<circle cx="2338.35" cy="1274.54" r="3.51" fill="#e6cd73"/>
<circle cx="2341.49" cy="1273.94" r="3.51" fill="#e6cd73"/>
<circle cx="2344.63" cy="1276.48" r="3.51" fill="#e8cb72"/>
<circle cx="2347.77" cy="1279.92" r="3.51" fill="#ebca70"/>
<circle cx="2350.91" cy="1283.22" r="3.51" fill="#ecc86f"/>
<circle cx="2354.05" cy="1285.16" r="3.51" fill="#eec66d"/>
<circle cx="2357.19" cy="1286.21" r="3.51" fill="#f0c46c"/>
<circle cx="2360.33" cy="1287.4" r="3.51" fill="#f2c26b"/>
<circle cx="2363.47" cy="1288.45" r="3.51" fill="#f2c26b"/>
<circle cx="2366.6" cy="1289.95" r="3.51" fill="#f4c069"/>
<circle cx="2369.74" cy="1291.89" r="3.51" fill="#f6be68"/>
<circle cx="2372.88" cy="1293.39" r="3.51" fill="#f9bb66"/>
<circle cx="2376.02" cy="1292.94" r="3.51" fill="#fbb965"/>
<circle cx="2379.16" cy="1290.4" r="3.51" fill="#fcb763"/>
<circle cx="2382.3" cy="1288.9" r="3.51" fill="#feb562"/>
<circle cx="2385.44" cy="1286.96" r="3.51" fill="#ffb360"/>
<circle cx="2388.58" cy="1284.41" r="3.51" fill="#ffb360"/>
<circle cx="2391.72" cy="1282.47" r="3.51" fill="#ffb05f"/>
<circle cx="2394.86" cy="1278.73" r="3.51" fill="#ffae5e"/>
<circle cx="2397.99" cy="1274.24" r="3.51" fill="#ffac5c"/>
<circle cx="2401.13" cy="1269.75" r="3.51" fill="#ffa95b"/>
<circle cx="2404.27" cy="1265.71" r="3.51" fill="#ffa759"/>
<circle cx="2407.41" cy="1262.27" r="3.51" fill="#ffa558"/>
<circle cx="2410.55" cy="1260.03" r="3.51" fill="#ffa558"/>
<circle cx="2413.69" cy="1258.98" r="3.51" fill="#ffa256"/>
<circle cx="2416.83" cy="1258.53" r="3.51" fill="#ffa055"/>
<circle cx="2419.97" cy="1258.53" r="3.51" fill="#ff9d53"/>
<circle cx="2423.11" cy="1259.28" r="3.51" fill="#ff9b52"/>
<circle cx="2426.25" cy="1261.97" r="3.51" fill="#ff9850"/>
<circle cx="2429.38" cy="1265.26" r="3.51" fill="#ff964f"/>
<circle cx="2432.52" cy="1267.81" r="3.51" fill="#ff964f"/>
<circle cx="2435.66" cy="1269" r="3.51" fill="#ff934d"/>
<circle cx="2438.8" cy="1269.45" r="3.51" fill="#ff914c"/>
<circle cx="2441.94" cy="1270.5" r="3.51" fill="#ff8e4a"/>
<circle cx="2445.08" cy="1269" r="3.51" fill="#ff8c49"/>
<circle cx="2448.22" cy="1265.71" r="3.51" fill="#ff8947"/>
<circle cx="2451.36" cy="1260.78" r="3.51" fill="#ff8646"/>
<circle cx="2454.5" cy="1254.79" r="3.51" fill="#ff8444"/>
<circle cx="2457.64" cy="1248.06" r="3.51" fill="#ff8444"/>
<circle cx="2460.77" cy="1240.88" r="3.51" fill="#ff8143"/>
<circle cx="2463.91" cy="1233.85" r="3.51" fill="#ff7e41"/>
<circle cx="2467.05" cy="1227.86" r="3.51" fill="#ff7b40"/>
<circle cx="2470.19" cy="1224.57" r="3.51" fill="#ff793e"/>
<circle cx="2473.33" cy="1223.37" r="3.51" fill="#ff763d"/>
<circle cx="2476.47" cy="1224.57" r="3.51" fill="#ff733b"/>
<circle cx="2479.61" cy="1226.07" r="3.51" fill="#ff733b"/>
<circle cx="2482.75" cy="1226.07" r="3.51" fill="#ff703a"/>
<circle cx="2485.89" cy="1224.87" r="3.51" fill="#ff6d38"/>
<circle cx="2489.02" cy="1221.88" r="3.51" fill="#ff6b37"/>
<circle cx="2492.16" cy="1218.14" r="3.51" fill="#ff6835"/>
<circle cx="2495.3" cy="1215.6" r="3.51" fill="#ff6533"/>
<circle cx="2498.44" cy="1217.39" r="3.51" fill="#ff6232"/>
<circle cx="2501.58" cy="1225.62" r="3.51" fill="#ff5f30"/>
<circle cx="2504.72" cy="1240.58" r="3.51" fill="#ff5f30"/>
<circle cx="2507.86" cy="1255.54" r="3.51" fill="#ff5c2f"/>
<circle cx="2511" cy="1269.3" r="3.51" fill="#ff592d"/>
<circle cx="2514.14" cy="1285.91" r="3.51" fill="#ff562c"/>
<circle cx="2517.28" cy="1311.94" r="3.51" fill="#ff532a"/>
<circle cx="2520.41" cy="1346.05" r="3.51" fill="#ff5029"/>
<circle cx="2523.55" cy="1377.47" r="3.51" fill="#ff4d27"/>
<circle cx="2526.69" cy="1400.95" r="3.51" fill="#ff4d27"/>
<circle cx="2529.83" cy="1420.4" r="3.51" fill="#ff4a26"/>
<circle cx="2532.97" cy="1435.81" r="3.51" fill="#ff4724"/>
<circle cx="2536.11" cy="1448.37" r="3.51" fill="#ff4422"/>
<circle cx="2539.25" cy="1457.8" r="3.51" fill="#ff4121"/>
<circle cx="2542.39" cy="1466.33" r="3.51" fill="#ff3e1f"/>
<circle cx="2545.53" cy="1473.06" r="3.51" fill="#ff3b1e"/>
<circle cx="2548.67" cy="1478.74" r="3.51" fill="#ff3b1e"/>
<circle cx="2551.8" cy="1483.98" r="3.51" fill="#ff381c"/>
<circle cx="2554.94" cy="1488.47" r="3.51" fill="#ff351b"/>
<circle cx="2558.08" cy="1492.21" r="3.51" fill="#ff3219"/>
<circle cx="2561.22" cy="1495.2" r="3.51" fill="#ff2f18"/>
<circle cx="2564.36" cy="1497.74" r="3.51" fill="#ff2c16"/>
<circle cx="2567.5" cy="1499.99" r="3.51" fill="#ff2914"/>
<circle cx="2570.64" cy="1501.93" r="3.51" fill="#ff2613"/>
<circle cx="2573.78" cy="1503.43" r="3.51" fill="#ff2613"/>
<circle cx="2576.92" cy="1504.62" r="3.51" fill="#ff2211"/>
<circle cx="2580.06" cy="1505.82" r="3.51" fill="#ff1f10"/>
<circle cx="2583.19" cy="1506.87" r="3.51" fill="#ff1c0e"/>
<circle cx="2586.33" cy="1507.92" r="3.51" fill="#ff190d"/>
<circle cx="2589.47" cy="1508.96" r="3.51" fill="#ff160b"/>
<circle cx="2592.61" cy="1509.86" r="3.51" fill="#ff1309"/>
<circle cx="2595.75" cy="1510.91" r="3.51" fill="#ff1309"/>
<circle cx="2598.89" cy="1511.8" r="3.51" fill="#ff1008"/>
<circle cx="2602.03" cy="1512.7" r="3.51" fill="#ff0d06"/>
<circle cx="2605.17" cy="1513.45" r="3.51" fill="#ff0905"/>
<circle cx="2608.31" cy="1514.2" r="3.51" fill="#ff0603"/>
<circle cx="2611.45" cy="1514.95" r="3.51" fill="#ff0302"/>
<circle cx="2614.58" cy="1515.54" r="3.51" fill="#ff0000"/>
<circle cx="2617.72" cy="1516.14" r="3.51" fill="#ff0000"/>
<circle cx="1688.58" cy="1707.76" r="3.51" fill="#ff0000"/>
<circle cx="1691.72" cy="1680.98" r="3.51" fill="#ff0000"/>
<circle cx="1694.86" cy="1645.67" r="3.51" fill="#ff0100"/>
<circle cx="1698" cy="1608.87" r="3.51" fill="#ff0200"/>
<circle cx="1701.14" cy="1578.45" r="3.51" fill="#ff0300"/>
<circle cx="1704.28" cy="1556.9" r="3.51" fill="#ff0400"/>
<circle cx="1707.42" cy="1548.97" r="3.51" fill="#ff0500"/>
<circle cx="1710.56" cy="1554.21" r="3.51" fill="#ff0600"/>
<circle cx="1713.69" cy="1569.47" r="3.51" fill="#ff0600"/>
<circle cx="1716.83" cy="1583.38" r="3.51" fill="#ff0700"/>
<circle cx="1719.97" cy="1594.81" r="3.51" fill="#ff0800"/>
<circle cx="1723.11" cy="1602.44" r="3.51" fill="#ff0900"/>
<circle cx="1726.25" cy="1609.92" r="3.51" fill="#ff0a00"/>
<circle cx="1729.39" cy="1617.4" r="3.51" fill="#ff0b00"/>
<circle cx="1732.53" cy="1625.18" r="3.51" fill="#ff0c00"/>
<circle cx="1735.67" cy="1632.66" r="3.51" fill="#ff0c00"/>
<circle cx="1738.81" cy="1638.64" r="3.51" fill="#ff0d00"/>
<circle cx="1741.95" cy="1646.12" r="3.51" fill="#ff0e00"/>
<circle cx="1745.08" cy="1653.15" r="3.51" fill="#ff0f00"/>
<circle cx="1748.22" cy="1658.54" r="3.51" fill="#ff1000"/>
<circle cx="1751.36" cy="1663.32" r="3.51" fill="#ff1100"/>
<circle cx="1754.5" cy="1666.62" r="3.51" fill="#ff1200"/>
<circle cx="1757.64" cy="1668.11" r="3.51" fill="#ff1300"/>
<circle cx="1760.78" cy="1667.51" r="3.51" fill="#ff1300"/>
<circle cx="1763.92" cy="1664.82" r="3.51" fill="#ff1400"/>
<circle cx="1767.06" cy="1661.83" r="3.51" fill="#ff1500"/>
<circle cx="1770.2" cy="1656.29" r="3.51" fill="#ff1600"/>
<circle cx="1773.33" cy="1648.36" r="3.51" fill="#ff1700"/>
<circle cx="1776.47" cy="1636.84" r="3.51" fill="#ff1800"/>
<circle cx="1779.61" cy="1623.23" r="3.51" fill="#ff1900"/>
<circle cx="1782.75" cy="1608.42" r="3.51" fill="#ff1900"/>
<circle cx="1785.89" cy="1592.26" r="3.51" fill="#ff1a00"/>
<circle cx="1789.03" cy="1578.45" r="3.51" fill="#ff1b00"/>
<circle cx="1792.17" cy="1564.38" r="3.51" fill="#ff1c00"/>
<circle cx="1795.31" cy="1550.02" r="3.51" fill="#ff1d00"/>
<circle cx="1798.45" cy="1537.01" r="3.51" fill="#ff1e00"/>
<circle cx="1801.59" cy="1524.29" r="3.51" fill="#ff1f00"/>
<circle cx="1804.72" cy="1512.32" r="3.51" fill="#ff2000"/>
<circle cx="1807.86" cy="1504.09" r="3.51" fill="#ff2000"/>
<circle cx="1811" cy="1499.61" r="3.51" fill="#ff2100"/>
<circle cx="1814.14" cy="1498.11" r="3.51" fill="#ff2200"/>
<circle cx="1817.28" cy="1500.05" r="3.51" fill="#ff2300"/>
<circle cx="1820.42" cy="1504.09" r="3.51" fill="#ff2400"/>
<circle cx="1823.56" cy="1510.83" r="3.51" fill="#ff2500"/>
<circle cx="1826.7" cy="1518.75" r="3.51" fill="#ff2600"/>
<circle cx="1829.84" cy="1527.28" r="3.51" fill="#ff2600"/>
<circle cx="1832.98" cy="1534.01" r="3.51" fill="#ff2700"/>
<circle cx="1836.11" cy="1540" r="3.51" fill="#ff2800"/>
<circle cx="1839.25" cy="1545.98" r="3.51" fill="#ff2900"/>
<circle cx="1842.39" cy="1552.27" r="3.51" fill="#ff2a00"/>
<circle cx="1845.53" cy="1558.7" r="3.51" fill="#ff2b00"/>
<circle cx="1848.67" cy="1565.43" r="3.51" fill="#ff2c00"/>
<circle cx="1851.81" cy="1571.12" r="3.51" fill="#ff2c00"/>
<circle cx="1854.95" cy="1576.65" r="3.51" fill="#ff2d00"/>
<circle cx="1858.09" cy="1580.39" r="3.51" fill="#ff2e00"/>
<circle cx="1861.23" cy="1581.59" r="3.51" fill="#ff2f00"/>
<circle cx="1864.37" cy="1580.39" r="3.51" fill="#ff3000"/>
<circle cx="1867.5" cy="1577.7" r="3.51" fill="#ff3100"/>
<circle cx="1870.64" cy="1572.16" r="3.51" fill="#ff3200"/>
<circle cx="1873.78" cy="1565.43" r="3.51" fill="#ff3300"/>
<circle cx="1876.92" cy="1558.4" r="3.51" fill="#ff3300"/>
<circle cx="1880.06" cy="1549.72" r="3.51" fill="#ff3400"/>
<circle cx="1883.2" cy="1542.24" r="3.51" fill="#ff3500"/>
<circle cx="1886.34" cy="1537.75" r="3.51" fill="#ff3600"/>
<circle cx="1889.48" cy="1532.52" r="3.51" fill="#ff3700"/>
<circle cx="1892.62" cy="1522.05" r="3.51" fill="#ff3800"/>
<circle cx="1895.76" cy="1506.34" r="3.51" fill="#ff3900"/>
<circle cx="1898.89" cy="1479.71" r="3.51" fill="#ff3900"/>
<circle cx="1902.03" cy="1461.01" r="3.51" fill="#ff3a00"/>
<circle cx="1905.17" cy="1458.02" r="3.51" fill="#ff3b00"/>
<circle cx="1908.31" cy="1473.42" r="3.51" fill="#ff3c00"/>
<circle cx="1911.45" cy="1491.38" r="3.51" fill="#ff3d00"/>
<circle cx="1914.59" cy="1494.37" r="3.51" fill="#ff3e00"/>
<circle cx="1917.73" cy="1482.4" r="3.51" fill="#ff3f00"/>
<circle cx="1920.87" cy="1456.22" r="3.51" fill="#ff4000"/>
<circle cx="1924.01" cy="1426.75" r="3.51" fill="#ff4000"/>
<circle cx="1927.15" cy="1403.41" r="3.51" fill="#ff4100"/>
<circle cx="1930.28" cy="1390.39" r="3.51" fill="#ff4200"/>
<circle cx="1933.42" cy="1386.65" r="3.51" fill="#ff4300"/>
<circle cx="1936.56" cy="1390.39" r="3.51" fill="#ff4400"/>
<circle cx="1939.7" cy="1394.88" r="3.51" fill="#ff4500"/>
<circle cx="1942.84" cy="1400.87" r="3.51" fill="#ff4600"/>
<circle cx="1945.98" cy="1400.12" r="3.51" fill="#ff4600"/>
<circle cx="1949.12" cy="1397.87" r="3.51" fill="#ff4700"/>
<circle cx="1952.26" cy="1400.12" r="3.51" fill="#ff4800"/>
<circle cx="1955.4" cy="1407.6" r="3.51" fill="#ff4900"/>
<circle cx="1958.54" cy="1427.35" r="3.51" fill="#ff4a00"/>
<circle cx="1961.67" cy="1421.06" r="3.51" fill="#ff4b00"/>
<circle cx="1964.81" cy="1399.37" r="3.51" fill="#ff4c00"/>
<circle cx="1967.95" cy="1385.46" r="3.51" fill="#ff4c00"/>
<circle cx="1971.09" cy="1383.66" r="3.51" fill="#ff4d00"/>
<circle cx="1974.23" cy="1385.16" r="3.51" fill="#ff4e00"/>
<circle cx="1977.37" cy="1380.67" r="3.51" fill="#ff4f00"/>
<circle cx="1980.51" cy="1373.94" r="3.51" fill="#ff5000"/>
<circle cx="1983.65" cy="1393.69" r="3.51" fill="#ff5100"/>
<circle cx="1986.79" cy="1440.81" r="3.51" fill="#ff5200"/>
<circle cx="1989.93" cy="1462.32" r="3.51" fill="#ff5300"/>
<circle cx="1993.06" cy="1443.92" r="3.51" fill="#ff5300"/>
<circle cx="1996.2" cy="1440.63" r="3.51" fill="#ff5400"/>
<circle cx="1999.34" cy="1451.85" r="3.51" fill="#ff5500"/>
<circle cx="2002.48" cy="1454.09" r="3.51" fill="#ff5600"/>
<circle cx="2005.62" cy="1448.85" r="3.51" fill="#ff5700"/>
<circle cx="2008.76" cy="1451.55" r="3.51" fill="#ff5800"/>
<circle cx="2011.9" cy="1458.58" r="3.51" fill="#ff5900"/>
<circle cx="2015.04" cy="1465.61" r="3.51" fill="#ff5900"/>
<circle cx="2018.18" cy="1472.49" r="3.51" fill="#ff5a00"/>
<circle cx="2021.32" cy="1477.58" r="3.51" fill="#ff5b00"/>
<circle cx="2024.45" cy="1481.47" r="3.51" fill="#ff5c00"/>
<circle cx="2027.59" cy="1484.01" r="3.51" fill="#ff5d00"/>
<circle cx="2030.73" cy="1485.51" r="3.51" fill="#ff5e00"/>
<circle cx="2033.87" cy="1485.81" r="3.51" fill="#ff5f00"/>
<circle cx="2037.01" cy="1484.76" r="3.51" fill="#ff6000"/>
<circle cx="2040.15" cy="1482.51" r="3.51" fill="#ff6000"/>
<circle cx="2043.29" cy="1478.77" r="3.51" fill="#ff6100"/>
<circle cx="2046.43" cy="1473.09" r="3.51" fill="#ff6200"/>
<circle cx="2049.57" cy="1466.06" r="3.51" fill="#ff6300"/>
<circle cx="2052.71" cy="1457.08" r="3.51" fill="#ff6400"/>
<circle cx="2055.84" cy="1448.55" r="3.51" fill="#ff6500"/>
<circle cx="2058.98" cy="1439.43" r="3.51" fill="#ff6600"/>
<circle cx="2062.12" cy="1430.45" r="3.51" fill="#ff6600"/>
<circle cx="2065.26" cy="1422.22" r="3.51" fill="#ff6700"/>
<circle cx="2068.4" cy="1414.89" r="3.51" fill="#ff6800"/>
<circle cx="2071.54" cy="1406.96" r="3.51" fill="#ff6900"/>
<circle cx="2074.68" cy="1394.7" r="3.51" fill="#ff6a00"/>
<circle cx="2077.82" cy="1387.86" r="3.51" fill="#ff6b00"/>
<circle cx="2080.96" cy="1385.61" r="3.51" fill="#ff6c00"/>
<circle cx="2084.1" cy="1383.67" r="3.51" fill="#ff6c00"/>
<circle cx="2087.23" cy="1384.12" r="3.51" fill="#ff6d00"/>
<circle cx="2090.37" cy="1384.87" r="3.51" fill="#ff6e00"/>
<circle cx="2093.51" cy="1383.37" r="3.51" fill="#ff6f00"/>
<circle cx="2096.65" cy="1380.38" r="3.51" fill="#ff7000"/>
<circle cx="2099.79" cy="1379.63" r="3.51" fill="#ff7100"/>
<circle cx="2102.93" cy="1380.08" r="3.51" fill="#ff7200"/>
<circle cx="2106.07" cy="1377.39" r="3.51" fill="#ff7300"/>
<circle cx="2109.21" cy="1369.61" r="3.51" fill="#ff7300"/>
<circle cx="2112.35" cy="1361.68" r="3.51" fill="#ff7400"/>
<circle cx="2115.49" cy="1356.89" r="3.51" fill="#ff7500"/>
<circle cx="2118.62" cy="1357.19" r="3.51" fill="#ff7600"/>
<circle cx="2121.76" cy="1360.18" r="3.51" fill="#ff7700"/>
<circle cx="2124.9" cy="1365.12" r="3.51" fill="#ff7800"/>
<circle cx="2128.04" cy="1368.41" r="3.51" fill="#ff7900"/>
<circle cx="2131.18" cy="1375.14" r="3.51" fill="#ff7900"/>
<circle cx="2134.32" cy="1381.13" r="3.51" fill="#ff7a00"/>
<circle cx="2137.46" cy="1380.38" r="3.51" fill="#ff7b00"/>
<circle cx="2140.6" cy="1369.16" r="3.51" fill="#ff7c00"/>
<circle cx="2143.74" cy="1358.68" r="3.51" fill="#ff7d00"/>
<circle cx="2146.87" cy="1353.15" r="3.51" fill="#ff7e00"/>
<circle cx="2150.01" cy="1351.95" r="3.51" fill="#ff7f00"/>
<circle cx="2153.15" cy="1354.94" r="3.51" fill="#ff8000"/>
<circle cx="2156.29" cy="1356.74" r="3.51" fill="#ff8000"/>
<circle cx="2159.43" cy="1357.19" r="3.51" fill="#ff8100"/>
<circle cx="2162.57" cy="1354.2" r="3.51" fill="#ff8200"/>
<circle cx="2165.71" cy="1347.91" r="3.51" fill="#ff8300"/>
<circle cx="2168.85" cy="1341.93" r="3.51" fill="#ff8400"/>
<circle cx="2171.99" cy="1339.24" r="3.51" fill="#ff8500"/>
<circle cx="2175.13" cy="1339.98" r="3.51" fill="#ff8600"/>
<circle cx="2178.26" cy="1345.22" r="3.51" fill="#ff8600"/>
<circle cx="2181.4" cy="1354.2" r="3.51" fill="#ff8700"/>
<circle cx="2184.54" cy="1360.93" r="3.51" fill="#ff8800"/>
<circle cx="2187.68" cy="1364.22" r="3.51" fill="#ff8900"/>
<circle cx="2190.82" cy="1363.62" r="3.51" fill="#ff8a00"/>
<circle cx="2193.96" cy="1359.43" r="3.51" fill="#ff8b00"/>
<circle cx="2197.1" cy="1357.19" r="3.51" fill="#ff8c00"/>
<circle cx="2200.24" cy="1356.89" r="3.51" fill="#ff8c00"/>
<circle cx="2203.38" cy="1358.68" r="3.51" fill="#ff8d00"/>
<circle cx="2206.52" cy="1362.42" r="3.51" fill="#ff8e00"/>
<circle cx="2209.65" cy="1364.97" r="3.51" fill="#ff8f00"/>
<circle cx="2212.79" cy="1365.87" r="3.51" fill="#ff9000"/>
<circle cx="2215.93" cy="1366.16" r="3.51" fill="#ff9100"/>
<circle cx="2219.07" cy="1366.16" r="3.51" fill="#ff9200"/>
<circle cx="2222.21" cy="1365.87" r="3.51" fill="#ff9300"/>
<circle cx="2225.35" cy="1364.97" r="3.51" fill="#ff9300"/>
<circle cx="2228.49" cy="1363.62" r="3.51" fill="#ff9400"/>
<circle cx="2231.63" cy="1362.13" r="3.51" fill="#ff9500"/>
<circle cx="2234.77" cy="1360.63" r="3.51" fill="#ff9600"/>
<circle cx="2237.91" cy="1359.43" r="3.51" fill="#ff9700"/>
<circle cx="2241.04" cy="1358.68" r="3.51" fill="#ff9800"/>
<circle cx="2244.18" cy="1358.68" r="3.51" fill="#ff9900"/>
<circle cx="2247.32" cy="1358.68" r="3.51" fill="#ff9900"/>
<circle cx="2250.46" cy="1358.39" r="3.51" fill="#ff9a00"/>
<circle cx="2253.6" cy="1357.49" r="3.51" fill="#ff9b00"/>
<circle cx="2256.74" cy="1356.44" r="3.51" fill="#ff9c00"/>
<circle cx="2259.88" cy="1355.39" r="3.51" fill="#ff9d00"/>
<circle cx="2263.02" cy="1354.65" r="3.51" fill="#ff9e00"/>
<circle cx="2266.16" cy="1354.2" r="3.51" fill="#ff9f00"/>
<circle cx="2269.3" cy="1354.2" r="3.51" fill="#ffa000"/>
<circle cx="2272.43" cy="1354.5" r="3.51" fill="#ffa000"/>
<circle cx="2275.57" cy="1355.24" r="3.51" fill="#ffa100"/>
<circle cx="2278.71" cy="1356.14" r="3.51" fill="#ffa200"/>
<circle cx="2281.85" cy="1357.19" r="3.51" fill="#ffa300"/>
<circle cx="2284.99" cy="1358.24" r="3.51" fill="#ffa400"/>
<circle cx="2288.13" cy="1358.98" r="3.51" fill="#ffa500"/>
<circle cx="2291.27" cy="1359.43" r="3.51" fill="#ffa600"/>
<circle cx="2294.41" cy="1359.13" r="3.51" fill="#ffa600"/>
<circle cx="2297.55" cy="1357.94" r="3.51" fill="#ffa700"/>
<circle cx="2300.69" cy="1355.69" r="3.51" fill="#ffa800"/>
<circle cx="2303.82" cy="1353.15" r="3.51" fill="#ffa900"/>
<circle cx="2306.96" cy="1349.71" r="3.51" fill="#ffaa00"/>
<circle cx="2310.1" cy="1348.29" r="3.51" fill="#ffab00"/>
<circle cx="2313.24" cy="1343.81" r="3.51" fill="#ffac00"/>
<circle cx="2316.38" cy="1337.07" r="3.51" fill="#ffac00"/>
<circle cx="2319.52" cy="1331.09" r="3.51" fill="#ffad00"/>
<circle cx="2322.66" cy="1328.55" r="3.51" fill="#ffae00"/>
<circle cx="2325.8" cy="1325.85" r="3.51" fill="#ffaf00"/>
<circle cx="2328.94" cy="1321.37" r="3.51" fill="#ffb000"/>
<circle cx="2332.08" cy="1319.12" r="3.51" fill="#ffb100"/>
<circle cx="2335.21" cy="1316.13" r="3.51" fill="#ffb200"/>
<circle cx="2338.35" cy="1313.59" r="3.51" fill="#ffb300"/>
<circle cx="2341.49" cy="1315.38" r="3.51" fill="#ffb300"/>
<circle cx="2344.63" cy="1320.62" r="3.51" fill="#ffb400"/>
<circle cx="2347.77" cy="1325.85" r="3.51" fill="#ffb500"/>
<circle cx="2350.91" cy="1332.59" r="3.51" fill="#ffb600"/>
<circle cx="2354.05" cy="1336.33" r="3.51" fill="#ffb700"/>
<circle cx="2357.19" cy="1337.82" r="3.51" fill="#ffb800"/>
<circle cx="2360.33" cy="1339.02" r="3.51" fill="#ffb900"/>
<circle cx="2363.47" cy="1340.51" r="3.51" fill="#ffb900"/>
<circle cx="2366.6" cy="1342.01" r="3.51" fill="#ffba00"/>
<circle cx="2369.74" cy="1343.81" r="3.51" fill="#ffbb00"/>
<circle cx="2372.88" cy="1345.3" r="3.51" fill="#ffbc00"/>
<circle cx="2376.02" cy="1345" r="3.51" fill="#ffbd00"/>
<circle cx="2379.16" cy="1342.76" r="3.51" fill="#ffbe00"/>
<circle cx="2382.3" cy="1341.26" r="3.51" fill="#ffbf00"/>
<circle cx="2385.44" cy="1339.32" r="3.51" fill="#ffc000"/>
<circle cx="2388.58" cy="1336.33" r="3.51" fill="#ffc000"/>
<circle cx="2391.72" cy="1334.08" r="3.51" fill="#ffc100"/>
<circle cx="2394.86" cy="1330.34" r="3.51" fill="#ffc200"/>
<circle cx="2397.99" cy="1324.81" r="3.51" fill="#ffc300"/>
<circle cx="2401.13" cy="1320.62" r="3.51" fill="#ffc400"/>
<circle cx="2404.27" cy="1316.13" r="3.51" fill="#ffc500"/>
<circle cx="2407.41" cy="1313.14" r="3.51" fill="#ffc600"/>
<circle cx="2410.55" cy="1311.64" r="3.51" fill="#ffc600"/>
<circle cx="2413.69" cy="1311.19" r="3.51" fill="#ffc700"/>
<circle cx="2416.83" cy="1311.94" r="3.51" fill="#ffc800"/>
<circle cx="2419.97" cy="1313.59" r="3.51" fill="#ffc900"/>
<circle cx="2423.11" cy="1315.83" r="3.51" fill="#ffca00"/>
<circle cx="2426.25" cy="1319.12" r="3.51" fill="#ffcb00"/>
<circle cx="2429.38" cy="1322.56" r="3.51" fill="#ffcc00"/>
<circle cx="2432.52" cy="1324.81" r="3.51" fill="#ffcc00"/>
<circle cx="2435.66" cy="1325.85" r="3.51" fill="#ffcd00"/>
<circle cx="2438.8" cy="1326.3" r="3.51" fill="#ffce00"/>
<circle cx="2441.94" cy="1327.35" r="3.51" fill="#ffcf00"/>
<circle cx="2445.08" cy="1325.85" r="3.51" fill="#ffd000"/>
<circle cx="2448.22" cy="1322.56" r="3.51" fill="#ffd100"/>
<circle cx="2451.36" cy="1318.37" r="3.51" fill="#ffd200"/>
<circle cx="2454.5" cy="1313.14" r="3.51" fill="#ffd300"/>
<circle cx="2457.64" cy="1306.4" r="3.51" fill="#ffd300"/>
<circle cx="2460.77" cy="1299.37" r="3.51" fill="#ffd400"/>
<circle cx="2463.91" cy="1292.94" r="3.51" fill="#ffd500"/>
<circle cx="2467.05" cy="1286.96" r="3.51" fill="#ffd600"/>
<circle cx="2470.19" cy="1283.66" r="3.51" fill="#ffd700"/>
<circle cx="2473.33" cy="1282.02" r="3.51" fill="#ffd800"/>
<circle cx="2476.47" cy="1282.47" r="3.51" fill="#ffd900"/>
<circle cx="2479.61" cy="1283.66" r="3.51" fill="#ffd900"/>
<circle cx="2482.75" cy="1283.22" r="3.51" fill="#ffda00"/>
<circle cx="2485.89" cy="1282.02" r="3.51" fill="#ffdb00"/>
<circle cx="2489.02" cy="1278.73" r="3.51" fill="#ffdc00"/>
<circle cx="2492.16" cy="1275.44" r="3.51" fill="#ffdd00"/>
<circle cx="2495.3" cy="1273.04" r="3.51" fill="#ffde00"/>
<circle cx="2498.44" cy="1274.69" r="3.51" fill="#ffdf00"/>
<circle cx="2501.58" cy="1282.47" r="3.51" fill="#ffe000"/>
<circle cx="2504.72" cy="1294.89" r="3.51" fill="#ffe000"/>
<circle cx="2507.86" cy="1306.85" r="3.51" fill="#ffe100"/>
<circle cx="2511" cy="1317.62" r="3.51" fill="#ffe200"/>
<circle cx="2514.14" cy="1330.34" r="3.51" fill="#ffe300"/>
<circle cx="2517.28" cy="1352.03" r="3.51" fill="#ffe400"/>
<circle cx="2520.41" cy="1381.95" r="3.51" fill="#ffe500"/>
<circle cx="2523.55" cy="1410.37" r="3.51" fill="#ffe600"/>
<circle cx="2526.69" cy="1431.92" r="3.51" fill="#ffe600"/>
<circle cx="2529.83" cy="1449.27" r="3.51" fill="#ffe700"/>
<circle cx="2532.97" cy="1463.33" r="3.51" fill="#ffe800"/>
<circle cx="2536.11" cy="1474.7" r="3.51" fill="#ffe900"/>
<circle cx="2539.25" cy="1483.68" r="3.51" fill="#ffea00"/>
<circle cx="2542.39" cy="1491.46" r="3.51" fill="#ffeb00"/>
<circle cx="2545.53" cy="1498.19" r="3.51" fill="#ffec00"/>
<circle cx="2548.67" cy="1504.18" r="3.51" fill="#ffec00"/>
<circle cx="2551.8" cy="1509.41" r="3.51" fill="#ffed00"/>
<circle cx="2554.94" cy="1513.9" r="3.51" fill="#ffee00"/>
<circle cx="2558.08" cy="1517.64" r="3.51" fill="#ffef00"/>
<circle cx="2561.22" cy="1520.93" r="3.51" fill="#fff000"/>
<circle cx="2564.36" cy="1523.62" r="3.51" fill="#fff100"/>
<circle cx="2567.5" cy="1525.87" r="3.51" fill="#fff200"/>
<circle cx="2570.64" cy="1527.81" r="3.51" fill="#fff300"/>
<circle cx="2573.78" cy="1529.46" r="3.51" fill="#fff300"/>
<circle cx="2576.92" cy="1530.8" r="3.51" fill="#fff400"/>
<circle cx="2580.06" cy="1532" r="3.51" fill="#fff500"/>
<circle cx="2583.19" cy="1533.05" r="3.51" fill="#fff600"/>
<circle cx="2586.33" cy="1534.1" r="3.51" fill="#fff700"/>
<circle cx="2589.47" cy="1534.84" r="3.51" fill="#fff800"/>
<circle cx="2592.61" cy="1535.59" r="3.51" fill="#fff900"/>
<circle cx="2595.75" cy="1536.19" r="3.51" fill="#fff900"/>
<circle cx="2598.89" cy="1536.79" r="3.51" fill="#fffa00"/>
<circle cx="2602.03" cy="1537.24" r="3.51" fill="#fffb00"/>
<circle cx="2605.17" cy="1537.69" r="3.51" fill="#fffc00"/>
<circle cx="2608.31" cy="1537.99" r="3.51" fill="#fffd00"/>
<circle cx="2611.45" cy="1538.28" r="3.51" fill="#fffe00"/>
<circle cx="2614.58" cy="1538.58" r="3.51" fill="#ffff00"/>
<circle cx="2617.72" cy="1538.73" r="3.51" fill="#ffff00"/>
<circle cx="1688.58" cy="1767" r="3.51" fill="#0000ff"/>
<circle cx="1691.72" cy="1786.45" r="3.51" fill="#0000ff"/>
<circle cx="1694.86" cy="1806.65" r="3.51" fill="#0001fe"/>
<circle cx="1698" cy="1822.2" r="3.51" fill="#0002fe"/>
<circle cx="1701.14" cy="1831.33" r="3.51" fill="#0003fe"/>
<circle cx="1704.28" cy="1836.12" r="3.51" fill="#0004fd"/>
<circle cx="1707.42" cy="1837.61" r="3.51" fill="#0005fc"/>
<circle cx="1710.56" cy="1836.12" r="3.51" fill="#0006fc"/>
<circle cx="1713.69" cy="1833.13" r="3.51" fill="#0006fc"/>
<circle cx="1716.83" cy="1830.13" r="3.51" fill="#0007fc"/>
<circle cx="1719.97" cy="1827.14" r="3.51" fill="#0008fb"/>
<circle cx="1723.11" cy="1824.45" r="3.51" fill="#0009fa"/>
<circle cx="1726.25" cy="1822.35" r="3.51" fill="#000afa"/>
<circle cx="1729.39" cy="1820.41" r="3.51" fill="#000bfa"/>
<circle cx="1732.53" cy="1819.21" r="3.51" fill="#000cf9"/>
<circle cx="1735.67" cy="1818.46" r="3.51" fill="#000cf9"/>
<circle cx="1738.81" cy="1818.02" r="3.51" fill="#000df8"/>
<circle cx="1741.95" cy="1817.87" r="3.51" fill="#000ef8"/>
<circle cx="1745.08" cy="1818.02" r="3.51" fill="#000ff8"/>
<circle cx="1748.22" cy="1818.31" r="3.51" fill="#0010f7"/>
<circle cx="1751.36" cy="1818.61" r="3.51" fill="#0011f6"/>
<circle cx="1754.5" cy="1819.06" r="3.51" fill="#0012f6"/>
<circle cx="1757.64" cy="1819.36" r="3.51" fill="#0013f6"/>
<circle cx="1760.78" cy="1819.51" r="3.51" fill="#0013f6"/>
<circle cx="1763.92" cy="1819.36" r="3.51" fill="#0014f5"/>
<circle cx="1767.06" cy="1818.46" r="3.51" fill="#0015f4"/>
<circle cx="1770.2" cy="1816.67" r="3.51" fill="#0016f4"/>
<circle cx="1773.33" cy="1813.68" r="3.51" fill="#0017f4"/>
<circle cx="1776.47" cy="1809.94" r="3.51" fill="#0018f3"/>
<circle cx="1779.61" cy="1806.2" r="3.51" fill="#0019f2"/>
<circle cx="1782.75" cy="1799.91" r="3.51" fill="#0019f2"/>
<circle cx="1785.89" cy="1789.74" r="3.51" fill="#001af2"/>
<circle cx="1789.03" cy="1778.07" r="3.51" fill="#001bf2"/>
<circle cx="1792.17" cy="1763.26" r="3.51" fill="#001cf1"/>
<circle cx="1795.31" cy="1745.31" r="3.51" fill="#001df0"/>
<circle cx="1798.45" cy="1726.91" r="3.51" fill="#001ef0"/>
<circle cx="1801.59" cy="1707.46" r="3.51" fill="#001ff0"/>
<circle cx="1804.72" cy="1689.21" r="3.51" fill="#0020ef"/>
<circle cx="1807.86" cy="1673.05" r="3.51" fill="#0020ef"/>
<circle cx="1811" cy="1656.89" r="3.51" fill="#0021ee"/>
<circle cx="1814.14" cy="1642.83" r="3.51" fill="#0022ee"/>
<circle cx="1817.28" cy="1634.15" r="3.51" fill="#0023ee"/>
<circle cx="1820.42" cy="1629.22" r="3.51" fill="#0024ed"/>
<circle cx="1823.56" cy="1628.62" r="3.51" fill="#0025ec"/>
<circle cx="1826.7" cy="1632.36" r="3.51" fill="#0026ec"/>
<circle cx="1829.84" cy="1637.14" r="3.51" fill="#0026ec"/>
<circle cx="1832.98" cy="1640.14" r="3.51" fill="#0027ec"/>
<circle cx="1836.11" cy="1646.42" r="3.51" fill="#0028eb"/>
<circle cx="1839.25" cy="1653.9" r="3.51" fill="#0029eb"/>
<circle cx="1842.39" cy="1661.38" r="3.51" fill="#002aea"/>
<circle cx="1845.53" cy="1671.55" r="3.51" fill="#002bea"/>
<circle cx="1848.67" cy="1686.96" r="3.51" fill="#002ce9"/>
<circle cx="1851.81" cy="1705.51" r="3.51" fill="#002ce9"/>
<circle cx="1854.95" cy="1726.61" r="3.51" fill="#002de8"/>
<circle cx="1858.09" cy="1750.84" r="3.51" fill="#002ee8"/>
<circle cx="1861.23" cy="1776.28" r="3.51" fill="#002fe8"/>
<circle cx="1864.37" cy="1796.02" r="3.51" fill="#0030e7"/>
<circle cx="1867.5" cy="1812.47" r="3.51" fill="#0031e6"/>
<circle cx="1870.64" cy="1822.95" r="3.51" fill="#0032e6"/>
<circle cx="1873.78" cy="1832.37" r="3.51" fill="#0033e6"/>
<circle cx="1876.92" cy="1840.6" r="3.51" fill="#0033e6"/>
<circle cx="1880.06" cy="1841.95" r="3.51" fill="#0034e5"/>
<circle cx="1883.2" cy="1834.47" r="3.51" fill="#0035e4"/>
<circle cx="1886.34" cy="1831.92" r="3.51" fill="#0036e4"/>
<circle cx="1889.48" cy="1841.65" r="3.51" fill="#0037e3"/>
<circle cx="1892.62" cy="1859.9" r="3.51" fill="#0038e3"/>
<circle cx="1895.76" cy="1878.3" r="3.51" fill="#0039e2"/>
<circle cx="1898.89" cy="1889.07" r="3.51" fill="#0039e2"/>
<circle cx="1902.03" cy="1895.95" r="3.51" fill="#003ae2"/>
<circle cx="1905.17" cy="1900.44" r="3.51" fill="#003be2"/>
<circle cx="1908.31" cy="1902.98" r="3.51" fill="#003ce1"/>
<circle cx="1911.45" cy="1899.99" r="3.51" fill="#003de0"/>
<circle cx="1914.59" cy="1894.31" r="3.51" fill="#003ee0"/>
<circle cx="1917.73" cy="1889.07" r="3.51" fill="#003fe0"/>
<circle cx="1920.87" cy="1881.74" r="3.51" fill="#0040df"/>
<circle cx="1924.01" cy="1884.58" r="3.51" fill="#0040df"/>
<circle cx="1927.15" cy="1896.7" r="3.51" fill="#0041de"/>
<circle cx="1930.28" cy="1912.26" r="3.51" fill="#0042de"/>
<circle cx="1933.42" cy="1923.63" r="3.51" fill="#0043de"/>
<circle cx="1936.56" cy="1928.42" r="3.51" fill="#0044dd"/>
<circle cx="1939.7" cy="1932.16" r="3.51" fill="#0045dc"/>
<circle cx="1942.84" cy="1934.4" r="3.51" fill="#0046dc"/>
<circle cx="1945.98" cy="1932.91" r="3.51" fill="#0046dc"/>
<circle cx="1949.12" cy="1931.11" r="3.51" fill="#0047dc"/>
<circle cx="1952.26" cy="1931.41" r="3.51" fill="#0048db"/>
<circle cx="1955.4" cy="1933.95" r="3.51" fill="#0049db"/>
<circle cx="1958.54" cy="1936.35" r="3.51" fill="#004ada"/>
<circle cx="1961.67" cy="1935.9" r="3.51" fill="#004bda"/>
<circle cx="1964.81" cy="1935.15" r="3.51" fill="#004cd9"/>
<circle cx="1967.95" cy="1934.85" r="3.51" fill="#004cd9"/>
<circle cx="1971.09" cy="1935.15" r="3.51" fill="#004dd8"/>
<circle cx="1974.23" cy="1936.35" r="3.51" fill="#004ed8"/>
<circle cx="1977.37" cy="1937.84" r="3.51" fill="#004fd8"/>
<circle cx="1980.51" cy="1939.04" r="3.51" fill="#0050d7"/>
<circle cx="1983.65" cy="1939.64" r="3.51" fill="#0051d6"/>
<circle cx="1986.79" cy="1939.64" r="3.51" fill="#0052d6"/>
<circle cx="1989.93" cy="1939.83" r="3.51" fill="#0053d6"/>
<circle cx="1993.06" cy="1934.6" r="3.51" fill="#0053d6"/>
<circle cx="1996.2" cy="1928.61" r="3.51" fill="#0054d5"/>
<circle cx="1999.34" cy="1922.63" r="3.51" fill="#0055d4"/>
<circle cx="2002.48" cy="1915.9" r="3.51" fill="#0056d4"/>
<circle cx="2005.62" cy="1909.46" r="3.51" fill="#0057d3"/>
<circle cx="2008.76" cy="1903.63" r="3.51" fill="#0058d3"/>
<circle cx="2011.9" cy="1898.99" r="3.51" fill="#0059d2"/>
<circle cx="2015.04" cy="1894.65" r="3.51" fill="#0059d2"/>
<circle cx="2018.18" cy="1889.71" r="3.51" fill="#005ad2"/>
<circle cx="2021.32" cy="1886.72" r="3.51" fill="#005bd2"/>
<circle cx="2024.45" cy="1885.97" r="3.51" fill="#005cd1"/>
<circle cx="2027.59" cy="1889.27" r="3.51" fill="#005dd0"/>
<circle cx="2030.73" cy="1893.75" r="3.51" fill="#005ed0"/>
<circle cx="2033.87" cy="1898.24" r="3.51" fill="#005fd0"/>
<circle cx="2037.01" cy="1901.98" r="3.51" fill="#0060cf"/>
<circle cx="2040.15" cy="1905.87" r="3.51" fill="#0060cf"/>
<circle cx="2043.29" cy="1909.16" r="3.51" fill="#0061ce"/>
<circle cx="2046.43" cy="1910.21" r="3.51" fill="#0062ce"/>
<circle cx="2049.57" cy="1910.36" r="3.51" fill="#0063ce"/>
<circle cx="2052.71" cy="1912.16" r="3.51" fill="#0064cd"/>
<circle cx="2055.84" cy="1919.19" r="3.51" fill="#0065cc"/>
<circle cx="2058.98" cy="1927.12" r="3.51" fill="#0066cc"/>
<circle cx="2062.12" cy="1931.6" r="3.51" fill="#0066cc"/>
<circle cx="2065.26" cy="1936.09" r="3.51" fill="#0067cc"/>
<circle cx="2068.4" cy="1940.58" r="3.51" fill="#0068cb"/>
<circle cx="2071.54" cy="1946.56" r="3.51" fill="#0069cb"/>
<circle cx="2074.68" cy="1951.05" r="3.51" fill="#006aca"/>
<circle cx="2077.82" cy="1953.3" r="3.51" fill="#006bca"/>
<circle cx="2080.96" cy="1954.79" r="3.51" fill="#006cc9"/>
<circle cx="2084.1" cy="1955.54" r="3.51" fill="#006cc9"/>
<circle cx="2087.23" cy="1955.99" r="3.51" fill="#006dc8"/>
<circle cx="2090.37" cy="1955.99" r="3.51" fill="#006ec8"/>
<circle cx="2093.51" cy="1955.24" r="3.51" fill="#006fc8"/>
<circle cx="2096.65" cy="1953.3" r="3.51" fill="#0070c7"/>
<circle cx="2099.79" cy="1951.5" r="3.51" fill="#0071c6"/>
<circle cx="2102.93" cy="1949.26" r="3.51" fill="#0072c6"/>
<circle cx="2106.07" cy="1948.06" r="3.51" fill="#0073c6"/>
<circle cx="2109.21" cy="1946.86" r="3.51" fill="#0073c6"/>
<circle cx="2112.35" cy="1944.77" r="3.51" fill="#0074c5"/>
<circle cx="2115.49" cy="1944.02" r="3.51" fill="#0075c4"/>
<circle cx="2118.62" cy="1941.78" r="3.51" fill="#0076c4"/>
<circle cx="2121.76" cy="1936.84" r="3.51" fill="#0077c3"/>
<circle cx="2124.9" cy="1932.8" r="3.51" fill="#0078c3"/>
<circle cx="2128.04" cy="1929.81" r="3.51" fill="#0079c2"/>
<circle cx="2131.18" cy="1926.37" r="3.51" fill="#0079c2"/>
<circle cx="2134.32" cy="1922.63" r="3.51" fill="#007ac2"/>
<circle cx="2137.46" cy="1918.14" r="3.51" fill="#007bc2"/>
<circle cx="2140.6" cy="1909.46" r="3.51" fill="#007cc1"/>
<circle cx="2143.74" cy="1901.98" r="3.51" fill="#007dc0"/>
<circle cx="2146.87" cy="1898.69" r="3.51" fill="#007ec0"/>
<circle cx="2150.01" cy="1897.94" r="3.51" fill="#007fc0"/>
<circle cx="2153.15" cy="1897.94" r="3.51" fill="#0080bf"/>
<circle cx="2156.29" cy="1898.99" r="3.51" fill="#0080bf"/>
<circle cx="2159.43" cy="1903.18" r="3.51" fill="#0081be"/>
<circle cx="2162.57" cy="1906.92" r="3.51" fill="#0082be"/>
<circle cx="2165.71" cy="1911.41" r="3.51" fill="#0083be"/>
<circle cx="2168.85" cy="1916.34" r="3.51" fill="#0084bd"/>
<circle cx="2171.99" cy="1919.64" r="3.51" fill="#0085bc"/>
<circle cx="2175.13" cy="1918.14" r="3.51" fill="#0086bc"/>
<circle cx="2178.26" cy="1916.34" r="3.51" fill="#0086bc"/>
<circle cx="2181.4" cy="1915.15" r="3.51" fill="#0087bc"/>
<circle cx="2184.54" cy="1914.85" r="3.51" fill="#0088bb"/>
<circle cx="2187.68" cy="1910.96" r="3.51" fill="#0089bb"/>
<circle cx="2190.82" cy="1905.42" r="3.51" fill="#008aba"/>
<circle cx="2193.96" cy="1902.43" r="3.51" fill="#008bba"/>
<circle cx="2197.1" cy="1902.43" r="3.51" fill="#008cb9"/>
<circle cx="2200.24" cy="1903.93" r="3.51" fill="#008cb9"/>
<circle cx="2203.38" cy="1905.87" r="3.51" fill="#008db8"/>
<circle cx="2206.52" cy="1908.42" r="3.51" fill="#008eb8"/>
<circle cx="2209.65" cy="1912.45" r="3.51" fill="#008fb8"/>
<circle cx="2212.79" cy="1911.11" r="3.51" fill="#0090b7"/>
<circle cx="2215.93" cy="1902.43" r="3.51" fill="#0091b6"/>
<circle cx="2219.07" cy="1884.93" r="3.51" fill="#0092b6"/>
<circle cx="2222.21" cy="1865.03" r="3.51" fill="#0093b6"/>
<circle cx="2225.35" cy="1845.58" r="3.51" fill="#0093b6"/>
<circle cx="2228.49" cy="1823.14" r="3.51" fill="#0094b5"/>
<circle cx="2231.63" cy="1806.39" r="3.51" fill="#0095b4"/>
<circle cx="2234.77" cy="1799.2" r="3.51" fill="#0096b4"/>
<circle cx="2237.91" cy="1801.15" r="3.51" fill="#0097b3"/>
<circle cx="2241.04" cy="1808.18" r="3.51" fill="#0098b3"/>
<circle cx="2244.18" cy="1813.42" r="3.51" fill="#0099b2"/>
<circle cx="2247.32" cy="1820.15" r="3.51" fill="#0099b2"/>
<circle cx="2250.46" cy="1826.58" r="3.51" fill="#009ab2"/>
<circle cx="2253.6" cy="1831.07" r="3.51" fill="#009bb2"/>
<circle cx="2256.74" cy="1834.06" r="3.51" fill="#009cb1"/>
<circle cx="2259.88" cy="1835.86" r="3.51" fill="#009db0"/>
<circle cx="2263.02" cy="1837.8" r="3.51" fill="#009eb0"/>
<circle cx="2266.16" cy="1843.79" r="3.51" fill="#009fb0"/>
<circle cx="2269.3" cy="1847.83" r="3.51" fill="#00a0af"/>
<circle cx="2272.43" cy="1847.83" r="3.51" fill="#00a0af"/>
<circle cx="2275.57" cy="1848.57" r="3.51" fill="#00a1ae"/>
<circle cx="2278.71" cy="1852.76" r="3.51" fill="#00a2ae"/>
<circle cx="2281.85" cy="1856.5" r="3.51" fill="#00a3ae"/>
<circle cx="2284.99" cy="1860.54" r="3.51" fill="#00a4ad"/>
<circle cx="2288.13" cy="1868.02" r="3.51" fill="#00a5ac"/>
<circle cx="2291.27" cy="1873.26" r="3.51" fill="#00a6ac"/>
<circle cx="2294.41" cy="1876.7" r="3.51" fill="#00a6ac"/>
<circle cx="2297.55" cy="1879.24" r="3.51" fill="#00a7ac"/>
<circle cx="2300.69" cy="1881.49" r="3.51" fill="#00a8ab"/>
<circle cx="2303.82" cy="1886.42" r="3.51" fill="#00a9ab"/>
<circle cx="2306.96" cy="1893.9" r="3.51" fill="#00aaaa"/>
<circle cx="2310.1" cy="1902.43" r="3.51" fill="#00abaa"/>
<circle cx="2313.24" cy="1910.21" r="3.51" fill="#00aca9"/>
<circle cx="2316.38" cy="1914.85" r="3.51" fill="#00aca9"/>
<circle cx="2319.52" cy="1920.08" r="3.51" fill="#00ada8"/>
<circle cx="2322.66" cy="1924.57" r="3.51" fill="#00aea8"/>
<circle cx="2325.8" cy="1928.61" r="3.51" fill="#00afa8"/>
<circle cx="2328.94" cy="1932.8" r="3.51" fill="#00b0a7"/>
<circle cx="2332.08" cy="1935.34" r="3.51" fill="#00b1a6"/>
<circle cx="2335.21" cy="1936.09" r="3.51" fill="#00b2a6"/>
<circle cx="2338.35" cy="1934.3" r="3.51" fill="#00b3a6"/>
<circle cx="2341.49" cy="1931.6" r="3.51" fill="#00b3a6"/>
<circle cx="2344.63" cy="1928.31" r="3.51" fill="#00b4a5"/>
<circle cx="2347.77" cy="1925.62" r="3.51" fill="#00b5a4"/>
<circle cx="2350.91" cy="1923.38" r="3.51" fill="#00b6a4"/>
<circle cx="2354.05" cy="1922.33" r="3.51" fill="#00b7a3"/>
<circle cx="2357.19" cy="1921.88" r="3.51" fill="#00b8a3"/>
<circle cx="2360.33" cy="1921.88" r="3.51" fill="#00b9a2"/>
<circle cx="2363.47" cy="1922.03" r="3.51" fill="#00b9a2"/>
<circle cx="2366.6" cy="1922.33" r="3.51" fill="#00baa2"/>
<circle cx="2369.74" cy="1922.63" r="3.51" fill="#00bba2"/>
<circle cx="2372.88" cy="1922.63" r="3.51" fill="#00bca1"/>
<circle cx="2376.02" cy="1922.33" r="3.51" fill="#00bda0"/>
<circle cx="2379.16" cy="1922.03" r="3.51" fill="#00bea0"/>
<circle cx="2382.3" cy="1922.03" r="3.51" fill="#00bfa0"/>
<circle cx="2385.44" cy="1922.63" r="3.51" fill="#00c09f"/>
<circle cx="2388.58" cy="1923.68" r="3.51" fill="#00c09f"/>
<circle cx="2391.72" cy="1924.87" r="3.51" fill="#00c19e"/>
<circle cx="2394.86" cy="1925.92" r="3.51" fill="#00c29e"/>
<circle cx="2397.99" cy="1926.37" r="3.51" fill="#00c39e"/>
<circle cx="2401.13" cy="1926.07" r="3.51" fill="#00c49d"/>
<circle cx="2404.27" cy="1924.87" r="3.51" fill="#00c59c"/>
<circle cx="2407.41" cy="1923.82" r="3.51" fill="#00c69c"/>
<circle cx="2410.55" cy="1922.93" r="3.51" fill="#00c69c"/>
<circle cx="2413.69" cy="1921.88" r="3.51" fill="#00c79c"/>
<circle cx="2416.83" cy="1920.38" r="3.51" fill="#00c89b"/>
<circle cx="2419.97" cy="1918.89" r="3.51" fill="#00c99b"/>
<circle cx="2423.11" cy="1917.39" r="3.51" fill="#00ca9a"/>
<circle cx="2426.25" cy="1916.64" r="3.51" fill="#00cb9a"/>
<circle cx="2429.38" cy="1916.94" r="3.51" fill="#00cc99"/>
<circle cx="2432.52" cy="1917.39" r="3.51" fill="#00cc99"/>
<circle cx="2435.66" cy="1917.69" r="3.51" fill="#00cd98"/>
<circle cx="2438.8" cy="1917.54" r="3.51" fill="#00ce98"/>
<circle cx="2441.94" cy="1917.24" r="3.51" fill="#00cf98"/>
<circle cx="2445.08" cy="1916.79" r="3.51" fill="#00d097"/>
<circle cx="2448.22" cy="1916.34" r="3.51" fill="#00d196"/>
<circle cx="2451.36" cy="1916.05" r="3.51" fill="#00d296"/>
<circle cx="2454.5" cy="1915.75" r="3.51" fill="#00d396"/>
<circle cx="2457.64" cy="1915.45" r="3.51" fill="#00d396"/>
<circle cx="2460.77" cy="1915.15" r="3.51" fill="#00d495"/>
<circle cx="2463.91" cy="1915.15" r="3.51" fill="#00d594"/>
<circle cx="2467.05" cy="1915.45" r="3.51" fill="#00d694"/>
<circle cx="2470.19" cy="1915.9" r="3.51" fill="#00d793"/>
<circle cx="2473.33" cy="1916.34" r="3.51" fill="#00d893"/>
<circle cx="2476.47" cy="1916.94" r="3.51" fill="#00d992"/>
<circle cx="2479.61" cy="1917.39" r="3.51" fill="#00d992"/>
<circle cx="2482.75" cy="1917.54" r="3.51" fill="#00da92"/>
<circle cx="2485.89" cy="1917.39" r="3.51" fill="#00db92"/>
<circle cx="2489.02" cy="1917.09" r="3.51" fill="#00dc91"/>
<circle cx="2492.16" cy="1916.79" r="3.51" fill="#00dd90"/>
<circle cx="2495.3" cy="1916.64" r="3.51" fill="#00de90"/>
<circle cx="2498.44" cy="1916.94" r="3.51" fill="#00df90"/>
<circle cx="2501.58" cy="1918.44" r="3.51" fill="#00e08f"/>
<circle cx="2504.72" cy="1921.13" r="3.51" fill="#00e08f"/>
<circle cx="2507.86" cy="1924.87" r="3.51" fill="#00e18e"/>
<circle cx="2511" cy="1928.61" r="3.51" fill="#00e28e"/>
<circle cx="2514.14" cy="1932.35" r="3.51" fill="#00e38e"/>
<circle cx="2517.28" cy="1936.84" r="3.51" fill="#00e48d"/>
<circle cx="2520.41" cy="1940.58" r="3.51" fill="#00e58c"/>
<circle cx="2523.55" cy="1943.57" r="3.51" fill="#00e68c"/>
<circle cx="2526.69" cy="1945.37" r="3.51" fill="#00e68c"/>
<circle cx="2529.83" cy="1946.86" r="3.51" fill="#00e78c"/>
<circle cx="2532.97" cy="1947.91" r="3.51" fill="#00e88b"/>
<circle cx="2536.11" cy="1948.81" r="3.51" fill="#00e98b"/>
<circle cx="2539.25" cy="1949.41" r="3.51" fill="#00ea8a"/>
<circle cx="2542.39" cy="1949.86" r="3.51" fill="#00eb8a"/>
<circle cx="2545.53" cy="1950.3" r="3.51" fill="#00ec89"/>
<circle cx="2548.67" cy="1950.6" r="3.51" fill="#00ec89"/>
<circle cx="2551.8" cy="1950.75" r="3.51" fill="#00ed88"/>
<circle cx="2554.94" cy="1950.9" r="3.51" fill="#00ee88"/>
<circle cx="2558.08" cy="1951.05" r="3.51" fill="#00ef88"/>
<circle cx="2561.22" cy="1951.2" r="3.51" fill="#00f087"/>
<circle cx="2564.36" cy="1951.35" r="3.51" fill="#00f186"/>
<circle cx="2567.5" cy="1951.5" r="3.51" fill="#00f286"/>
<circle cx="2570.64" cy="1951.65" r="3.51" fill="#00f386"/>
<circle cx="2573.78" cy="1951.65" r="3.51" fill="#00f386"/>
<circle cx="2576.92" cy="1951.5" r="3.51" fill="#00f485"/>
<circle cx="2580.06" cy="1951.35" r="3.51" fill="#00f584"/>
<circle cx="2583.19" cy="1951.05" r="3.51" fill="#00f684"/>
<circle cx="2586.33" cy="1950.75" r="3.51" fill="#00f784"/>
<circle cx="2589.47" cy="1950.6" r="3.51" fill="#00f883"/>
<circle cx="2592.61" cy="1950.45" r="3.51" fill="#00f982"/>
<circle cx="2595.75" cy="1950.45" r="3.51" fill="#00f982"/>
<circle cx="2598.89" cy="1950.6" r="3.51" fill="#00fa82"/>
<circle cx="2602.03" cy="1950.75" r="3.51" fill="#00fb82"/>
<circle cx="2605.17" cy="1951.05" r="3.51" fill="#00fc81"/>
<circle cx="2608.31" cy="1951.35" r="3.51" fill="#00fd80"/>
<circle cx="2611.45" cy="1951.65" r="3.51" fill="#00fe80"/>
<circle cx="2614.58" cy="1951.8" r="3.51" fill="#00ff80"/>
<circle cx="2617.72" cy="1951.95" r="3.51" fill="#00ff80"/>
</g>
<path class="g" d="M1679 2001.92V1111.738M1836 2001.92V1111.738M1993 2001.92V1111.738M2150 2001.92V1111.738M2307 2001.92V1111.738M2464 2001.92V1111.738M2621 2001.92V1111.738M1679.165 1967H2620.863M1679.165 1852H2620.863M1679.165 1737H2620.863M1679.165 1622H2620.863M1679.165 1507H2620.863M1679.165 1392H2620.863M1679.165 1277H2620.863M1679.165 1162H2620.863"/>
<path class="k" d="M1679 2002v7.778M1836 2002v7.778M1993 2002v7.778M2150 2002v7.778M2307 2002v7.778M2464 2002v7.778M2621 2002v7.778M1679 1967h-7.778M1679 1852h-7.778M1679 1737h-7.778M1679 1622h-7.778M1679 1507h-7.778M1679 1392h-7.778M1679 1277h-7.778M1679 1162h-7.778"/>
<rect class="s" x="1679" y="1112" width="942" height="890"/>
<rect x="2626.43" y="1111.74" width="44.51" height="890.18" fill="url(#rb)"/>
<rect class="s" x="2626" y="1112" width="45" height="890"/>
<path class="k" d="M2671 1561h7.778M2671 1112h7.778"/>
<g transform="scale(2.222222)" opacity="0.999">
<text class="a" x="103.68" y="446.162" text-anchor="middle">−150</text>
<text class="a" x="174.307" y="446.162" text-anchor="middle">−100</text>
<text class="a" x="244.935" y="446.162" text-anchor="middle">−50</text>
<text class="a" x="315.562" y="446.162" text-anchor="middle">0</text>
<text class="a" x="386.189" y="446.162" text-anchor="middle">50</text>
<text class="a" x="456.817" y="446.162" text-anchor="middle">100</text>
<text class="a" x="527.444" y="446.162" text-anchor="middle">150</text>
<g transform="translate(266.062 475.306)"><text><tspan class="a i" x="-1.89" y="0">x</tspan><tspan class="a i" x="43.439" y="0">μ</tspan><tspan class="a i" x="67.417" y="0">m</tspan><tspan class="a" x="31.525" y="0">[</tspan><tspan class="a" x="93.165" y="0">]</tspan></text></g>
<text class="a" x="96.68" y="429.664" text-anchor="end">−150</text>
<text class="a" x="96.68" y="362.9" text-anchor="end">−100</text>
<text class="a" x="96.68" y="296.137" text-anchor="end">−50</text>
<text class="a" x="96.68" y="229.373" text-anchor="end">0</text>
<text class="a" x="96.68" y="162.609" text-anchor="end">50</text>
<text class="a" x="96.68" y="95.846" text-anchor="end">100</text>
<text class="a" x="96.68" y="29.082" text-anchor="end">150</text>
<g transform="translate(17.862 269.375) rotate(-90)"><text><tspan class="a i" x="-2.182" y="0">y</tspan><tspan class="a i" x="43.034" y="0">μ</tspan><tspan class="a i" x="66.832" y="0">m</tspan><tspan class="a" x="31.255" y="0">[</tspan><tspan class="a" x="92.895" y="0">]</tspan></text></g>
<text class="b" x="556.98" y="228.743" text-anchor="start">149.5</text>
<text class="b" x="556.98" y="26.423" text-anchor="start">299.0</text>
<g transform="translate(631.957 251.71) rotate(-90)"><text><tspan class="a i" x="0" y="0">t</tspan><tspan class="a i" x="27.673" y="0">T</tspan><tspan class="a" x="17.92" y="0">[</tspan><tspan class="a" x="54.762" y="0">]</tspan><tspan class="c" x="42.944" y="4.102">0</tspan></text></g>
<text class="a" x="755.624" y="446.162" text-anchor="middle">−1.00</text>
<text class="a" x="808.595" y="446.162" text-anchor="middle">−0.75</text>
<text class="a" x="861.565" y="446.162" text-anchor="middle">−0.50</text>
<text class="a" x="914.536" y="446.162" text-anchor="middle">−0.25</text>
<text class="a" x="967.506" y="446.162" text-anchor="middle">0.00</text>
<text class="a" x="1020.477" y="446.162" text-anchor="middle">0.25</text>
<text class="a" x="1073.447" y="446.162" text-anchor="middle">0.50</text>
<text class="a" x="1126.418" y="446.162" text-anchor="middle">0.75</text>
<text class="a" x="1179.388" y="446.162" text-anchor="middle">1.00</text>
<g transform="translate(934.826 475.347)"><text><tspan class="a i" x="0" y="0">v</tspan><tspan class="a i" x="43.706" y="0">c</tspan><tspan class="c i" x="14.795" y="4.102">x</tspan><tspan class="a" x="33.953" y="0">[</tspan><tspan class="a" x="57.451" y="0">]</tspan></text></g>
<text class="a" x="748.624" y="429.664" text-anchor="end">−1.00</text>
<text class="a" x="748.624" y="379.591" text-anchor="end">−0.75</text>
<text class="a" x="748.624" y="329.518" text-anchor="end">−0.50</text>
<text class="a" x="748.624" y="279.446" text-anchor="end">−0.25</text>
<text class="a" x="748.624" y="229.373" text-anchor="end">0.00</text>
<text class="a" x="748.624" y="179.3" text-anchor="end">0.25</text>
<text class="a" x="748.624" y="129.228" text-anchor="end">0.50</text>
<text class="a" x="748.624" y="79.155" text-anchor="end">0.75</text>
<text class="a" x="748.624" y="29.082" text-anchor="end">1.00</text>
<g transform="translate(659.136 253.05) rotate(-90)"><text><tspan class="a i" x="0" y="0">v</tspan><tspan class="a i" x="43.706" y="0">c</tspan><tspan class="c i" x="14.795" y="4.102">y</tspan><tspan class="a" x="33.953" y="0">[</tspan><tspan class="a" x="57.451" y="0">]</tspan></text></g>
<text class="b" x="1208.925" y="228.743" text-anchor="start">149.5</text>
<text class="b" x="1208.925" y="26.423" text-anchor="start">299.0</text>
<g transform="translate(1283.901 251.71) rotate(-90)"><text><tspan class="a i" x="0" y="0">t</tspan><tspan class="a i" x="27.673" y="0">T</tspan><tspan class="a" x="17.92" y="0">[</tspan><tspan class="a" x="54.762" y="0">]</tspan><tspan class="c" x="42.944" y="4.102">0</tspan></text></g>
<text class="a" x="103.68" y="926.86" text-anchor="middle">0</text>
<text class="a" x="160.182" y="926.86" text-anchor="middle">20</text>
<text class="a" x="216.684" y="926.86" text-anchor="middle">40</text>
<text class="a" x="273.186" y="926.86" text-anchor="middle">60</text>
<text class="a" x="329.687" y="926.86" text-anchor="middle">80</text>
<text class="a" x="386.189" y="926.86" text-anchor="middle">100</text>
<text class="a" x="442.691" y="926.86" text-anchor="middle">120</text>
<text class="a" x="499.193" y="926.86" text-anchor="middle">140</text>
<g transform="translate(277.337 956.184)"><text><tspan class="a i" x="0" y="0">r</tspan><tspan class="a i" x="28.149" y="0">μ</tspan><tspan class="a i" x="44.055" y="0">m</tspan><tspan class="a" x="18.396" y="0">[</tspan><tspan class="a" x="68.408" y="0">]</tspan></text></g>
<text class="a" x="96.68" y="910.362" text-anchor="end">−1.00</text>
<text class="a" x="96.68" y="860.289" text-anchor="end">−0.75</text>
<text class="a" x="96.68" y="810.217" text-anchor="end">−0.50</text>
<text class="a" x="96.68" y="760.144" text-anchor="end">−0.25</text>
<text class="a" x="96.68" y="710.071" text-anchor="end">0.00</text>
<text class="a" x="96.68" y="659.998" text-anchor="end">0.25</text>
<text class="a" x="96.68" y="609.926" text-anchor="end">0.50</text>
<text class="a" x="96.68" y="559.853" text-anchor="end">0.75</text>
<text class="a" x="96.68" y="509.78" text-anchor="end">1.00</text>
<g transform="translate(11.092 732.338) rotate(-90)"><text><tspan class="a i" x="0" y="0">v</tspan><tspan class="a i" x="40.544" y="0">c</tspan><tspan class="c i" x="14.795" y="4.102">r</tspan><tspan class="a" x="30.791" y="0">[</tspan><tspan class="a" x="54.289" y="0">]</tspan></text></g>
<text class="b" x="556.98" y="709.442" text-anchor="start">149.5</text>
<text class="b" x="556.98" y="507.121" text-anchor="start">299.0</text>
<g transform="translate(631.957 732.408) rotate(-90)"><text><tspan class="a i" x="0" y="0">t</tspan><tspan class="a i" x="27.673" y="0">T</tspan><tspan class="a" x="17.92" y="0">[</tspan><tspan class="a" x="54.762" y="0">]</tspan><tspan class="c" x="42.944" y="4.102">0</tspan></text></g>
<text class="a" x="755.624" y="926.86" text-anchor="middle">0</text>
<text class="a" x="826.252" y="926.86" text-anchor="middle">50</text>
<text class="a" x="896.879" y="926.86" text-anchor="middle">100</text>
<text class="a" x="967.506" y="926.86" text-anchor="middle">150</text>
<text class="a" x="1038.134" y="926.86" text-anchor="middle">200</text>
<text class="a" x="1108.761" y="926.86" text-anchor="middle">250</text>
<text class="a" x="1179.388" y="926.86" text-anchor="middle">300</text>
<g transform="translate(936.076 955.955)"><text><tspan class="a i" x="0" y="0">t</tspan><tspan class="a i" x="27.673" y="0">T</tspan><tspan class="a" x="17.92" y="0">[</tspan><tspan class="a" x="54.762" y="0">]</tspan><tspan class="c" x="42.944" y="4.102">0</tspan></text></g>
<text class="a" x="748.624" y="894.606" text-anchor="end">−0.4</text>
<text class="a" x="748.624" y="842.861" text-anchor="end">−0.2</text>
<text class="a" x="748.624" y="791.116" text-anchor="end">0.0</text>
<text class="a" x="748.624" y="739.372" text-anchor="end">0.2</text>
<text class="a" x="748.624" y="687.627" text-anchor="end">0.4</text>
<text class="a" x="748.624" y="635.882" text-anchor="end">0.6</text>
<text class="a" x="748.624" y="584.137" text-anchor="end">0.8</text>
<text class="a" x="748.624" y="532.393" text-anchor="end">1.0</text>
<g transform="translate(678.583 776.873) rotate(-90)"><text><tspan class="a i" x="0" y="-0.436">E</tspan><tspan class="a i" x="15.796" y="-0.436">k</tspan><tspan class="a i" x="38.391" y="-0.436">W</tspan><tspan class="a i" x="80.981" y="-0.436">m</tspan><tspan class="a i" x="116.785" y="-0.436">c</tspan><tspan class="a" x="71.228" y="-0.436">[</tspan><tspan class="a" x="143.51" y="-0.436">]</tspan><tspan class="c i" x="105.334" y="3.666">e</tspan><tspan class="c" x="131.692" y="-10.006">2</tspan></text></g>
<text class="b" x="1208.925" y="709.442" text-anchor="start">149.5</text>
<text class="b" x="1208.925" y="507.121" text-anchor="start">299.0</text>
<g transform="translate(1283.901 732.408) rotate(-90)"><text><tspan class="a i" x="0" y="0">t</tspan><tspan class="a i" x="27.673" y="0">T</tspan><tspan class="a" x="17.92" y="0">[</tspan><tspan class="a" x="54.762" y="0">]</tspan><tspan class="c" x="42.944" y="4.102">0</tspan></text></g>
</g>
</svg>
</body></html>
